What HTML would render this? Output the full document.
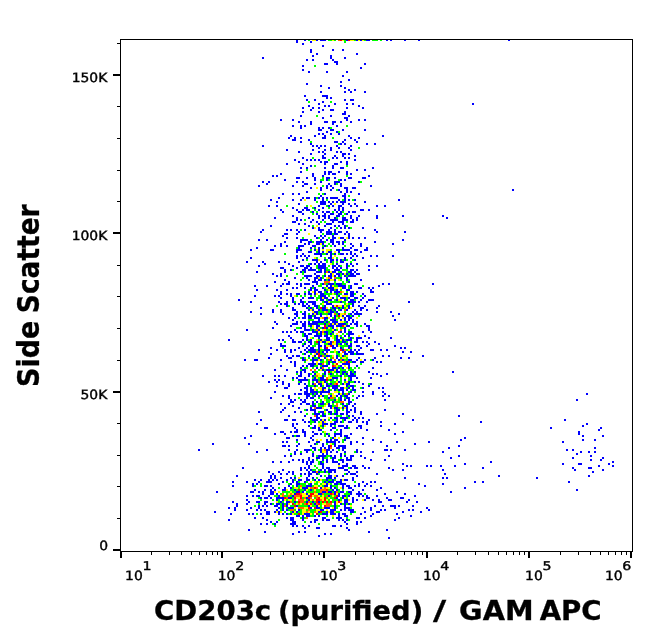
<!DOCTYPE html>
<html lang="en"><head><meta charset="utf-8"><title>CD203c (purified) / GAM APC vs Side Scatter</title>
<style>html,body{margin:0;padding:0;background:#fff}svg{display:block}</style></head>
<body>
<svg width="653" height="641" viewBox="0 0 653 641" shape-rendering="crispEdges">
<rect width="653" height="641" fill="#fff"/>
<path fill="#0000ff" d="M296 39h2v2h-2zM304 39h2v2h-2zM316 39h2v2h-2zM320 39h2v2h-2zM322 39h2v2h-2zM324 39h2v2h-2zM346 39h2v2h-2zM356 39h2v2h-2zM360 39h2v2h-2zM366 39h2v2h-2zM368 39h2v2h-2zM386 39h2v2h-2zM390 39h2v2h-2zM404 39h2v2h-2zM418 39h2v2h-2zM508 39h2v2h-2zM296 41h2v2h-2zM310 41h2v2h-2zM302 43h2v2h-2zM322 45h2v2h-2zM310 49h2v2h-2zM332 49h2v2h-2zM342 49h2v2h-2zM310 51h2v2h-2zM316 53h2v2h-2zM356 53h2v2h-2zM312 55h2v2h-2zM330 55h2v2h-2zM262 57h2v2h-2zM330 57h2v2h-2zM344 57h2v2h-2zM306 59h2v2h-2zM312 59h2v2h-2zM332 59h2v2h-2zM334 61h2v2h-2zM336 61h2v2h-2zM324 63h2v2h-2zM326 63h2v2h-2zM336 63h2v2h-2zM364 63h2v2h-2zM302 65h2v2h-2zM360 67h2v2h-2zM302 69h2v2h-2zM308 71h2v2h-2zM326 71h2v2h-2zM346 71h2v2h-2zM342 75h2v2h-2zM348 79h2v2h-2zM340 81h2v2h-2zM306 83h2v2h-2zM320 85h2v2h-2zM340 85h2v2h-2zM328 87h2v2h-2zM344 87h2v2h-2zM348 89h2v2h-2zM354 89h2v2h-2zM320 91h2v2h-2zM344 91h2v2h-2zM350 91h2v2h-2zM364 91h2v2h-2zM304 95h2v2h-2zM322 95h2v2h-2zM324 95h2v2h-2zM326 95h2v2h-2zM326 97h2v2h-2zM330 97h2v2h-2zM306 99h2v2h-2zM314 99h2v2h-2zM344 99h2v2h-2zM350 99h2v2h-2zM352 99h2v2h-2zM322 101h2v2h-2zM318 103h2v2h-2zM334 103h2v2h-2zM346 103h2v2h-2zM352 103h2v2h-2zM472 103h2v2h-2zM308 105h2v2h-2zM324 105h2v2h-2zM328 105h2v2h-2zM358 105h2v2h-2zM302 107h2v2h-2zM312 107h2v2h-2zM318 107h2v2h-2zM346 107h2v2h-2zM362 107h2v2h-2zM310 109h2v2h-2zM322 109h2v2h-2zM330 109h2v2h-2zM332 109h2v2h-2zM302 111h2v2h-2zM318 111h2v2h-2zM344 111h2v2h-2zM342 113h2v2h-2zM344 113h2v2h-2zM300 115h2v2h-2zM330 115h2v2h-2zM348 115h2v2h-2zM322 117h2v2h-2zM344 117h2v2h-2zM346 117h2v2h-2zM280 119h2v2h-2zM292 119h2v2h-2zM346 119h2v2h-2zM358 119h2v2h-2zM364 119h2v2h-2zM298 121h2v2h-2zM310 121h2v2h-2zM324 121h2v2h-2zM326 121h2v2h-2zM332 121h2v2h-2zM334 121h2v2h-2zM340 121h2v2h-2zM350 121h2v2h-2zM310 123h2v2h-2zM332 123h2v2h-2zM292 125h2v2h-2zM300 125h2v2h-2zM304 125h2v2h-2zM336 125h2v2h-2zM300 127h2v2h-2zM318 127h2v2h-2zM322 127h2v2h-2zM328 127h2v2h-2zM318 129h2v2h-2zM320 129h2v2h-2zM330 129h2v2h-2zM332 129h2v2h-2zM342 129h2v2h-2zM364 129h2v2h-2zM326 131h2v2h-2zM336 131h2v2h-2zM318 133h2v2h-2zM322 133h2v2h-2zM330 133h2v2h-2zM338 133h2v2h-2zM290 135h2v2h-2zM314 135h2v2h-2zM324 135h2v2h-2zM348 135h2v2h-2zM382 135h2v2h-2zM288 137h2v2h-2zM294 137h2v2h-2zM300 137h2v2h-2zM322 137h2v2h-2zM324 137h2v2h-2zM350 137h2v2h-2zM358 137h2v2h-2zM292 139h2v2h-2zM294 139h2v2h-2zM308 139h2v2h-2zM344 139h2v2h-2zM354 139h2v2h-2zM300 141h2v2h-2zM334 141h2v2h-2zM336 141h2v2h-2zM342 141h2v2h-2zM356 141h2v2h-2zM310 143h2v2h-2zM340 143h2v2h-2zM344 143h2v2h-2zM366 143h2v2h-2zM374 143h2v2h-2zM262 145h2v2h-2zM312 145h2v2h-2zM316 145h2v2h-2zM320 145h2v2h-2zM324 145h2v2h-2zM336 145h2v2h-2zM350 145h2v2h-2zM318 147h2v2h-2zM330 147h2v2h-2zM338 147h2v2h-2zM348 147h2v2h-2zM286 149h2v2h-2zM312 149h2v2h-2zM324 149h2v2h-2zM330 149h2v2h-2zM350 149h2v2h-2zM298 151h2v2h-2zM318 151h2v2h-2zM322 151h2v2h-2zM336 151h2v2h-2zM340 151h2v2h-2zM310 153h2v2h-2zM324 153h2v2h-2zM342 153h2v2h-2zM344 153h2v2h-2zM348 153h2v2h-2zM322 155h2v2h-2zM334 155h2v2h-2zM342 155h2v2h-2zM354 155h2v2h-2zM302 157h2v2h-2zM322 157h2v2h-2zM324 157h2v2h-2zM332 157h2v2h-2zM336 157h2v2h-2zM344 157h2v2h-2zM348 157h2v2h-2zM294 159h2v2h-2zM306 159h2v2h-2zM310 159h2v2h-2zM314 159h2v2h-2zM318 159h2v2h-2zM354 159h2v2h-2zM298 161h2v2h-2zM320 161h2v2h-2zM324 161h2v2h-2zM326 161h2v2h-2zM340 161h2v2h-2zM346 161h2v2h-2zM286 163h2v2h-2zM302 163h2v2h-2zM324 163h2v2h-2zM334 163h2v2h-2zM336 163h2v2h-2zM346 163h2v2h-2zM310 165h2v2h-2zM332 165h2v2h-2zM300 167h2v2h-2zM306 167h2v2h-2zM324 167h2v2h-2zM332 167h2v2h-2zM340 167h2v2h-2zM342 167h2v2h-2zM372 167h2v2h-2zM356 169h2v2h-2zM364 169h2v2h-2zM300 171h2v2h-2zM324 171h2v2h-2zM328 171h2v2h-2zM330 171h2v2h-2zM338 171h2v2h-2zM346 171h2v2h-2zM280 173h2v2h-2zM312 173h2v2h-2zM324 173h2v2h-2zM328 173h2v2h-2zM332 173h2v2h-2zM334 173h2v2h-2zM346 173h2v2h-2zM350 173h2v2h-2zM272 175h2v2h-2zM276 175h2v2h-2zM312 175h2v2h-2zM322 175h2v2h-2zM368 175h2v2h-2zM296 177h2v2h-2zM298 177h2v2h-2zM306 177h2v2h-2zM314 177h2v2h-2zM326 177h2v2h-2zM328 177h2v2h-2zM334 177h2v2h-2zM348 177h2v2h-2zM350 177h2v2h-2zM362 177h2v2h-2zM364 177h2v2h-2zM284 179h2v2h-2zM314 179h2v2h-2zM326 179h2v2h-2zM340 179h2v2h-2zM344 179h2v2h-2zM262 181h2v2h-2zM268 181h2v2h-2zM296 181h2v2h-2zM302 181h2v2h-2zM320 181h2v2h-2zM334 181h2v2h-2zM336 181h2v2h-2zM338 181h2v2h-2zM358 181h2v2h-2zM266 183h2v2h-2zM304 183h2v2h-2zM306 183h2v2h-2zM314 183h2v2h-2zM328 183h2v2h-2zM334 183h2v2h-2zM340 183h2v2h-2zM258 185h2v2h-2zM292 185h2v2h-2zM302 185h2v2h-2zM326 185h2v2h-2zM330 185h2v2h-2zM340 185h2v2h-2zM370 185h2v2h-2zM310 187h2v2h-2zM320 187h2v2h-2zM326 187h2v2h-2zM332 187h2v2h-2zM344 187h2v2h-2zM346 187h2v2h-2zM352 187h2v2h-2zM354 187h2v2h-2zM320 189h2v2h-2zM330 189h2v2h-2zM338 189h2v2h-2zM346 189h2v2h-2zM512 189h2v2h-2zM306 191h2v2h-2zM340 191h2v2h-2zM346 191h2v2h-2zM350 191h2v2h-2zM282 193h2v2h-2zM292 193h2v2h-2zM298 193h2v2h-2zM324 193h2v2h-2zM344 193h2v2h-2zM358 193h2v2h-2zM320 195h2v2h-2zM342 195h2v2h-2zM344 195h2v2h-2zM278 197h2v2h-2zM302 197h2v2h-2zM306 197h2v2h-2zM308 197h2v2h-2zM314 197h2v2h-2zM318 197h2v2h-2zM322 197h2v2h-2zM326 197h2v2h-2zM330 197h2v2h-2zM332 197h2v2h-2zM334 197h2v2h-2zM336 197h2v2h-2zM344 197h2v2h-2zM270 199h2v2h-2zM292 199h2v2h-2zM300 199h2v2h-2zM314 199h2v2h-2zM322 199h2v2h-2zM338 199h2v2h-2zM344 199h2v2h-2zM348 199h2v2h-2zM354 199h2v2h-2zM398 199h2v2h-2zM276 201h2v2h-2zM320 201h2v2h-2zM322 201h2v2h-2zM324 201h2v2h-2zM328 201h2v2h-2zM332 201h2v2h-2zM336 201h2v2h-2zM340 201h2v2h-2zM342 201h2v2h-2zM344 201h2v2h-2zM364 201h2v2h-2zM298 203h2v2h-2zM320 203h2v2h-2zM322 203h2v2h-2zM324 203h2v2h-2zM330 203h2v2h-2zM342 203h2v2h-2zM348 203h2v2h-2zM354 203h2v2h-2zM268 205h2v2h-2zM276 205h2v2h-2zM318 205h2v2h-2zM328 205h2v2h-2zM332 205h2v2h-2zM338 205h2v2h-2zM340 205h2v2h-2zM350 205h2v2h-2zM356 205h2v2h-2zM376 205h2v2h-2zM384 205h2v2h-2zM292 207h2v2h-2zM304 207h2v2h-2zM306 207h2v2h-2zM314 207h2v2h-2zM322 207h2v2h-2zM338 207h2v2h-2zM342 207h2v2h-2zM280 209h2v2h-2zM296 209h2v2h-2zM302 209h2v2h-2zM306 209h2v2h-2zM308 209h2v2h-2zM318 209h2v2h-2zM334 209h2v2h-2zM338 209h2v2h-2zM342 209h2v2h-2zM360 209h2v2h-2zM362 209h2v2h-2zM368 209h2v2h-2zM282 211h2v2h-2zM298 211h2v2h-2zM300 211h2v2h-2zM312 211h2v2h-2zM322 211h2v2h-2zM326 211h2v2h-2zM328 211h2v2h-2zM336 211h2v2h-2zM340 211h2v2h-2zM348 211h2v2h-2zM352 211h2v2h-2zM354 211h2v2h-2zM302 213h2v2h-2zM316 213h2v2h-2zM324 213h2v2h-2zM330 213h2v2h-2zM332 213h2v2h-2zM338 213h2v2h-2zM340 213h2v2h-2zM346 213h2v2h-2zM292 215h2v2h-2zM318 215h2v2h-2zM322 215h2v2h-2zM324 215h2v2h-2zM328 215h2v2h-2zM336 215h2v2h-2zM338 215h2v2h-2zM350 215h2v2h-2zM358 215h2v2h-2zM376 215h2v2h-2zM402 215h2v2h-2zM442 215h2v2h-2zM274 217h2v2h-2zM296 217h2v2h-2zM308 217h2v2h-2zM318 217h2v2h-2zM324 217h2v2h-2zM328 217h2v2h-2zM334 217h2v2h-2zM342 217h2v2h-2zM344 217h2v2h-2zM350 217h2v2h-2zM356 217h2v2h-2zM376 217h2v2h-2zM446 217h2v2h-2zM296 219h2v2h-2zM300 219h2v2h-2zM312 219h2v2h-2zM322 219h2v2h-2zM330 219h2v2h-2zM332 219h2v2h-2zM334 219h2v2h-2zM336 219h2v2h-2zM342 219h2v2h-2zM344 219h2v2h-2zM346 219h2v2h-2zM352 219h2v2h-2zM356 219h2v2h-2zM292 221h2v2h-2zM294 221h2v2h-2zM310 221h2v2h-2zM316 221h2v2h-2zM332 221h2v2h-2zM338 221h2v2h-2zM340 221h2v2h-2zM342 221h2v2h-2zM350 221h2v2h-2zM352 221h2v2h-2zM298 223h2v2h-2zM304 223h2v2h-2zM318 223h2v2h-2zM326 223h2v2h-2zM328 223h2v2h-2zM330 223h2v2h-2zM342 223h2v2h-2zM270 225h2v2h-2zM308 225h2v2h-2zM324 225h2v2h-2zM334 225h2v2h-2zM338 225h2v2h-2zM344 225h2v2h-2zM312 227h2v2h-2zM318 227h2v2h-2zM330 227h2v2h-2zM340 227h2v2h-2zM344 227h2v2h-2zM348 227h2v2h-2zM362 227h2v2h-2zM262 229h2v2h-2zM286 229h2v2h-2zM290 229h2v2h-2zM296 229h2v2h-2zM304 229h2v2h-2zM318 229h2v2h-2zM320 229h2v2h-2zM322 229h2v2h-2zM328 229h2v2h-2zM334 229h2v2h-2zM374 229h2v2h-2zM260 231h2v2h-2zM298 231h2v2h-2zM320 231h2v2h-2zM326 231h2v2h-2zM328 231h2v2h-2zM330 231h2v2h-2zM334 231h2v2h-2zM338 231h2v2h-2zM340 231h2v2h-2zM346 231h2v2h-2zM376 231h2v2h-2zM404 231h2v2h-2zM284 233h2v2h-2zM286 233h2v2h-2zM296 233h2v2h-2zM326 233h2v2h-2zM328 233h2v2h-2zM330 233h2v2h-2zM334 233h2v2h-2zM336 233h2v2h-2zM344 233h2v2h-2zM348 233h2v2h-2zM282 235h2v2h-2zM314 235h2v2h-2zM320 235h2v2h-2zM324 235h2v2h-2zM332 235h2v2h-2zM348 235h2v2h-2zM286 237h2v2h-2zM296 237h2v2h-2zM316 237h2v2h-2zM322 237h2v2h-2zM332 237h2v2h-2zM334 237h2v2h-2zM340 237h2v2h-2zM342 237h2v2h-2zM348 237h2v2h-2zM352 237h2v2h-2zM358 237h2v2h-2zM364 237h2v2h-2zM258 239h2v2h-2zM266 239h2v2h-2zM300 239h2v2h-2zM302 239h2v2h-2zM304 239h2v2h-2zM306 239h2v2h-2zM320 239h2v2h-2zM326 239h2v2h-2zM330 239h2v2h-2zM332 239h2v2h-2zM344 239h2v2h-2zM402 239h2v2h-2zM284 241h2v2h-2zM300 241h2v2h-2zM308 241h2v2h-2zM310 241h2v2h-2zM316 241h2v2h-2zM318 241h2v2h-2zM320 241h2v2h-2zM322 241h2v2h-2zM330 241h2v2h-2zM332 241h2v2h-2zM336 241h2v2h-2zM338 241h2v2h-2zM342 241h2v2h-2zM374 241h2v2h-2zM280 243h2v2h-2zM304 243h2v2h-2zM308 243h2v2h-2zM316 243h2v2h-2zM318 243h2v2h-2zM322 243h2v2h-2zM332 243h2v2h-2zM338 243h2v2h-2zM342 243h2v2h-2zM350 243h2v2h-2zM360 243h2v2h-2zM392 243h2v2h-2zM274 245h2v2h-2zM280 245h2v2h-2zM286 245h2v2h-2zM298 245h2v2h-2zM300 245h2v2h-2zM302 245h2v2h-2zM312 245h2v2h-2zM314 245h2v2h-2zM324 245h2v2h-2zM334 245h2v2h-2zM352 245h2v2h-2zM360 245h2v2h-2zM256 247h2v2h-2zM298 247h2v2h-2zM310 247h2v2h-2zM318 247h2v2h-2zM322 247h2v2h-2zM342 247h2v2h-2zM350 247h2v2h-2zM366 247h2v2h-2zM250 249h2v2h-2zM270 249h2v2h-2zM272 249h2v2h-2zM296 249h2v2h-2zM298 249h2v2h-2zM300 249h2v2h-2zM314 249h2v2h-2zM318 249h2v2h-2zM336 249h2v2h-2zM338 249h2v2h-2zM342 249h2v2h-2zM344 249h2v2h-2zM346 249h2v2h-2zM348 249h2v2h-2zM354 249h2v2h-2zM356 249h2v2h-2zM364 249h2v2h-2zM366 249h2v2h-2zM296 251h2v2h-2zM308 251h2v2h-2zM310 251h2v2h-2zM318 251h2v2h-2zM322 251h2v2h-2zM328 251h2v2h-2zM330 251h2v2h-2zM338 251h2v2h-2zM350 251h2v2h-2zM360 251h2v2h-2zM302 253h2v2h-2zM314 253h2v2h-2zM316 253h2v2h-2zM318 253h2v2h-2zM320 253h2v2h-2zM326 253h2v2h-2zM330 253h2v2h-2zM334 253h2v2h-2zM340 253h2v2h-2zM342 253h2v2h-2zM346 253h2v2h-2zM350 253h2v2h-2zM354 253h2v2h-2zM296 255h2v2h-2zM300 255h2v2h-2zM304 255h2v2h-2zM308 255h2v2h-2zM320 255h2v2h-2zM330 255h2v2h-2zM352 255h2v2h-2zM356 255h2v2h-2zM370 255h2v2h-2zM376 255h2v2h-2zM392 255h2v2h-2zM250 257h2v2h-2zM296 257h2v2h-2zM306 257h2v2h-2zM328 257h2v2h-2zM330 257h2v2h-2zM344 257h2v2h-2zM350 257h2v2h-2zM362 257h2v2h-2zM302 259h2v2h-2zM312 259h2v2h-2zM314 259h2v2h-2zM316 259h2v2h-2zM324 259h2v2h-2zM330 259h2v2h-2zM332 259h2v2h-2zM336 259h2v2h-2zM340 259h2v2h-2zM344 259h2v2h-2zM354 259h2v2h-2zM246 261h2v2h-2zM262 261h2v2h-2zM278 261h2v2h-2zM284 261h2v2h-2zM298 261h2v2h-2zM316 261h2v2h-2zM320 261h2v2h-2zM330 261h2v2h-2zM340 261h2v2h-2zM342 261h2v2h-2zM264 263h2v2h-2zM288 263h2v2h-2zM310 263h2v2h-2zM314 263h2v2h-2zM318 263h2v2h-2zM322 263h2v2h-2zM324 263h2v2h-2zM336 263h2v2h-2zM346 263h2v2h-2zM350 263h2v2h-2zM356 263h2v2h-2zM258 265h2v2h-2zM292 265h2v2h-2zM300 265h2v2h-2zM302 265h2v2h-2zM306 265h2v2h-2zM308 265h2v2h-2zM318 265h2v2h-2zM320 265h2v2h-2zM322 265h2v2h-2zM324 265h2v2h-2zM332 265h2v2h-2zM334 265h2v2h-2zM338 265h2v2h-2zM346 265h2v2h-2zM352 265h2v2h-2zM368 265h2v2h-2zM376 265h2v2h-2zM280 267h2v2h-2zM282 267h2v2h-2zM296 267h2v2h-2zM304 267h2v2h-2zM306 267h2v2h-2zM310 267h2v2h-2zM318 267h2v2h-2zM320 267h2v2h-2zM322 267h2v2h-2zM324 267h2v2h-2zM332 267h2v2h-2zM336 267h2v2h-2zM340 267h2v2h-2zM346 267h2v2h-2zM284 269h2v2h-2zM290 269h2v2h-2zM302 269h2v2h-2zM304 269h2v2h-2zM308 269h2v2h-2zM310 269h2v2h-2zM312 269h2v2h-2zM314 269h2v2h-2zM320 269h2v2h-2zM324 269h2v2h-2zM334 269h2v2h-2zM336 269h2v2h-2zM338 269h2v2h-2zM350 269h2v2h-2zM352 269h2v2h-2zM356 269h2v2h-2zM368 269h2v2h-2zM256 271h2v2h-2zM284 271h2v2h-2zM300 271h2v2h-2zM304 271h2v2h-2zM316 271h2v2h-2zM318 271h2v2h-2zM320 271h2v2h-2zM324 271h2v2h-2zM328 271h2v2h-2zM332 271h2v2h-2zM334 271h2v2h-2zM340 271h2v2h-2zM348 271h2v2h-2zM350 271h2v2h-2zM354 271h2v2h-2zM272 273h2v2h-2zM280 273h2v2h-2zM314 273h2v2h-2zM330 273h2v2h-2zM336 273h2v2h-2zM338 273h2v2h-2zM342 273h2v2h-2zM346 273h2v2h-2zM350 273h2v2h-2zM352 273h2v2h-2zM356 273h2v2h-2zM358 273h2v2h-2zM276 275h2v2h-2zM280 275h2v2h-2zM304 275h2v2h-2zM306 275h2v2h-2zM308 275h2v2h-2zM310 275h2v2h-2zM316 275h2v2h-2zM318 275h2v2h-2zM324 275h2v2h-2zM328 275h2v2h-2zM330 275h2v2h-2zM334 275h2v2h-2zM338 275h2v2h-2zM344 275h2v2h-2zM348 275h2v2h-2zM350 275h2v2h-2zM352 275h2v2h-2zM354 275h2v2h-2zM294 277h2v2h-2zM306 277h2v2h-2zM314 277h2v2h-2zM316 277h2v2h-2zM320 277h2v2h-2zM330 277h2v2h-2zM340 277h2v2h-2zM346 277h2v2h-2zM284 279h2v2h-2zM308 279h2v2h-2zM314 279h2v2h-2zM318 279h2v2h-2zM320 279h2v2h-2zM324 279h2v2h-2zM328 279h2v2h-2zM334 279h2v2h-2zM346 279h2v2h-2zM360 279h2v2h-2zM274 281h2v2h-2zM288 281h2v2h-2zM312 281h2v2h-2zM314 281h2v2h-2zM316 281h2v2h-2zM348 281h2v2h-2zM282 283h2v2h-2zM286 283h2v2h-2zM288 283h2v2h-2zM296 283h2v2h-2zM300 283h2v2h-2zM304 283h2v2h-2zM306 283h2v2h-2zM308 283h2v2h-2zM316 283h2v2h-2zM322 283h2v2h-2zM328 283h2v2h-2zM330 283h2v2h-2zM332 283h2v2h-2zM336 283h2v2h-2zM338 283h2v2h-2zM340 283h2v2h-2zM354 283h2v2h-2zM356 283h2v2h-2zM382 283h2v2h-2zM388 283h2v2h-2zM432 283h2v2h-2zM254 285h2v2h-2zM266 285h2v2h-2zM280 285h2v2h-2zM300 285h2v2h-2zM312 285h2v2h-2zM326 285h2v2h-2zM330 285h2v2h-2zM338 285h2v2h-2zM340 285h2v2h-2zM342 285h2v2h-2zM344 285h2v2h-2zM350 285h2v2h-2zM378 285h2v2h-2zM292 287h2v2h-2zM296 287h2v2h-2zM304 287h2v2h-2zM310 287h2v2h-2zM314 287h2v2h-2zM322 287h2v2h-2zM328 287h2v2h-2zM330 287h2v2h-2zM332 287h2v2h-2zM342 287h2v2h-2zM344 287h2v2h-2zM350 287h2v2h-2zM358 287h2v2h-2zM360 287h2v2h-2zM368 287h2v2h-2zM372 287h2v2h-2zM256 289h2v2h-2zM276 289h2v2h-2zM286 289h2v2h-2zM310 289h2v2h-2zM314 289h2v2h-2zM316 289h2v2h-2zM324 289h2v2h-2zM330 289h2v2h-2zM332 289h2v2h-2zM336 289h2v2h-2zM346 289h2v2h-2zM348 289h2v2h-2zM370 289h2v2h-2zM280 291h2v2h-2zM308 291h2v2h-2zM314 291h2v2h-2zM318 291h2v2h-2zM320 291h2v2h-2zM326 291h2v2h-2zM330 291h2v2h-2zM334 291h2v2h-2zM336 291h2v2h-2zM338 291h2v2h-2zM350 291h2v2h-2zM352 291h2v2h-2zM356 291h2v2h-2zM370 291h2v2h-2zM372 291h2v2h-2zM280 293h2v2h-2zM286 293h2v2h-2zM290 293h2v2h-2zM296 293h2v2h-2zM298 293h2v2h-2zM304 293h2v2h-2zM308 293h2v2h-2zM310 293h2v2h-2zM314 293h2v2h-2zM320 293h2v2h-2zM322 293h2v2h-2zM336 293h2v2h-2zM344 293h2v2h-2zM346 293h2v2h-2zM350 293h2v2h-2zM352 293h2v2h-2zM362 293h2v2h-2zM254 295h2v2h-2zM274 295h2v2h-2zM278 295h2v2h-2zM290 295h2v2h-2zM320 295h2v2h-2zM322 295h2v2h-2zM324 295h2v2h-2zM338 295h2v2h-2zM350 295h2v2h-2zM352 295h2v2h-2zM364 295h2v2h-2zM280 297h2v2h-2zM292 297h2v2h-2zM302 297h2v2h-2zM308 297h2v2h-2zM310 297h2v2h-2zM312 297h2v2h-2zM320 297h2v2h-2zM324 297h2v2h-2zM326 297h2v2h-2zM332 297h2v2h-2zM340 297h2v2h-2zM342 297h2v2h-2zM344 297h2v2h-2zM348 297h2v2h-2zM354 297h2v2h-2zM356 297h2v2h-2zM362 297h2v2h-2zM238 299h2v2h-2zM292 299h2v2h-2zM300 299h2v2h-2zM320 299h2v2h-2zM322 299h2v2h-2zM328 299h2v2h-2zM330 299h2v2h-2zM336 299h2v2h-2zM344 299h2v2h-2zM350 299h2v2h-2zM352 299h2v2h-2zM360 299h2v2h-2zM368 299h2v2h-2zM370 299h2v2h-2zM372 299h2v2h-2zM250 301h2v2h-2zM278 301h2v2h-2zM286 301h2v2h-2zM292 301h2v2h-2zM300 301h2v2h-2zM302 301h2v2h-2zM308 301h2v2h-2zM310 301h2v2h-2zM312 301h2v2h-2zM314 301h2v2h-2zM324 301h2v2h-2zM326 301h2v2h-2zM340 301h2v2h-2zM348 301h2v2h-2zM350 301h2v2h-2zM352 301h2v2h-2zM354 301h2v2h-2zM358 301h2v2h-2zM366 301h2v2h-2zM408 301h2v2h-2zM280 303h2v2h-2zM284 303h2v2h-2zM286 303h2v2h-2zM294 303h2v2h-2zM298 303h2v2h-2zM302 303h2v2h-2zM306 303h2v2h-2zM312 303h2v2h-2zM314 303h2v2h-2zM326 303h2v2h-2zM328 303h2v2h-2zM330 303h2v2h-2zM352 303h2v2h-2zM286 305h2v2h-2zM302 305h2v2h-2zM304 305h2v2h-2zM308 305h2v2h-2zM314 305h2v2h-2zM316 305h2v2h-2zM324 305h2v2h-2zM332 305h2v2h-2zM342 305h2v2h-2zM348 305h2v2h-2zM352 305h2v2h-2zM358 305h2v2h-2zM364 305h2v2h-2zM378 305h2v2h-2zM260 307h2v2h-2zM292 307h2v2h-2zM306 307h2v2h-2zM310 307h2v2h-2zM316 307h2v2h-2zM322 307h2v2h-2zM324 307h2v2h-2zM332 307h2v2h-2zM334 307h2v2h-2zM338 307h2v2h-2zM342 307h2v2h-2zM348 307h2v2h-2zM360 307h2v2h-2zM362 307h2v2h-2zM376 307h2v2h-2zM272 309h2v2h-2zM280 309h2v2h-2zM292 309h2v2h-2zM294 309h2v2h-2zM308 309h2v2h-2zM312 309h2v2h-2zM318 309h2v2h-2zM322 309h2v2h-2zM324 309h2v2h-2zM326 309h2v2h-2zM330 309h2v2h-2zM334 309h2v2h-2zM340 309h2v2h-2zM346 309h2v2h-2zM354 309h2v2h-2zM360 309h2v2h-2zM366 309h2v2h-2zM250 311h2v2h-2zM272 311h2v2h-2zM280 311h2v2h-2zM296 311h2v2h-2zM304 311h2v2h-2zM314 311h2v2h-2zM316 311h2v2h-2zM330 311h2v2h-2zM332 311h2v2h-2zM336 311h2v2h-2zM352 311h2v2h-2zM356 311h2v2h-2zM376 311h2v2h-2zM390 311h2v2h-2zM260 313h2v2h-2zM282 313h2v2h-2zM294 313h2v2h-2zM296 313h2v2h-2zM302 313h2v2h-2zM304 313h2v2h-2zM312 313h2v2h-2zM316 313h2v2h-2zM320 313h2v2h-2zM328 313h2v2h-2zM330 313h2v2h-2zM338 313h2v2h-2zM350 313h2v2h-2zM354 313h2v2h-2zM356 313h2v2h-2zM358 313h2v2h-2zM360 313h2v2h-2zM398 313h2v2h-2zM296 315h2v2h-2zM304 315h2v2h-2zM308 315h2v2h-2zM310 315h2v2h-2zM314 315h2v2h-2zM320 315h2v2h-2zM330 315h2v2h-2zM334 315h2v2h-2zM342 315h2v2h-2zM346 315h2v2h-2zM348 315h2v2h-2zM352 315h2v2h-2zM392 315h2v2h-2zM288 317h2v2h-2zM294 317h2v2h-2zM302 317h2v2h-2zM304 317h2v2h-2zM308 317h2v2h-2zM310 317h2v2h-2zM314 317h2v2h-2zM316 317h2v2h-2zM318 317h2v2h-2zM324 317h2v2h-2zM326 317h2v2h-2zM334 317h2v2h-2zM344 317h2v2h-2zM348 317h2v2h-2zM350 317h2v2h-2zM292 319h2v2h-2zM318 319h2v2h-2zM324 319h2v2h-2zM330 319h2v2h-2zM332 319h2v2h-2zM334 319h2v2h-2zM340 319h2v2h-2zM344 319h2v2h-2zM348 319h2v2h-2zM352 319h2v2h-2zM394 319h2v2h-2zM274 321h2v2h-2zM296 321h2v2h-2zM300 321h2v2h-2zM304 321h2v2h-2zM308 321h2v2h-2zM312 321h2v2h-2zM314 321h2v2h-2zM316 321h2v2h-2zM318 321h2v2h-2zM320 321h2v2h-2zM322 321h2v2h-2zM326 321h2v2h-2zM332 321h2v2h-2zM334 321h2v2h-2zM336 321h2v2h-2zM346 321h2v2h-2zM352 321h2v2h-2zM356 321h2v2h-2zM276 323h2v2h-2zM292 323h2v2h-2zM294 323h2v2h-2zM296 323h2v2h-2zM302 323h2v2h-2zM304 323h2v2h-2zM308 323h2v2h-2zM310 323h2v2h-2zM312 323h2v2h-2zM314 323h2v2h-2zM316 323h2v2h-2zM324 323h2v2h-2zM330 323h2v2h-2zM334 323h2v2h-2zM338 323h2v2h-2zM340 323h2v2h-2zM342 323h2v2h-2zM344 323h2v2h-2zM350 323h2v2h-2zM354 323h2v2h-2zM356 323h2v2h-2zM364 323h2v2h-2zM290 325h2v2h-2zM302 325h2v2h-2zM304 325h2v2h-2zM310 325h2v2h-2zM316 325h2v2h-2zM318 325h2v2h-2zM328 325h2v2h-2zM330 325h2v2h-2zM332 325h2v2h-2zM336 325h2v2h-2zM338 325h2v2h-2zM340 325h2v2h-2zM346 325h2v2h-2zM348 325h2v2h-2zM356 325h2v2h-2zM366 325h2v2h-2zM368 325h2v2h-2zM272 327h2v2h-2zM300 327h2v2h-2zM304 327h2v2h-2zM316 327h2v2h-2zM322 327h2v2h-2zM326 327h2v2h-2zM332 327h2v2h-2zM344 327h2v2h-2zM368 327h2v2h-2zM246 329h2v2h-2zM294 329h2v2h-2zM304 329h2v2h-2zM306 329h2v2h-2zM308 329h2v2h-2zM312 329h2v2h-2zM318 329h2v2h-2zM334 329h2v2h-2zM344 329h2v2h-2zM368 329h2v2h-2zM282 331h2v2h-2zM286 331h2v2h-2zM290 331h2v2h-2zM296 331h2v2h-2zM300 331h2v2h-2zM302 331h2v2h-2zM312 331h2v2h-2zM314 331h2v2h-2zM316 331h2v2h-2zM320 331h2v2h-2zM324 331h2v2h-2zM326 331h2v2h-2zM332 331h2v2h-2zM340 331h2v2h-2zM344 331h2v2h-2zM348 331h2v2h-2zM350 331h2v2h-2zM362 331h2v2h-2zM370 331h2v2h-2zM304 333h2v2h-2zM308 333h2v2h-2zM310 333h2v2h-2zM316 333h2v2h-2zM320 333h2v2h-2zM326 333h2v2h-2zM330 333h2v2h-2zM348 333h2v2h-2zM350 333h2v2h-2zM352 333h2v2h-2zM288 335h2v2h-2zM304 335h2v2h-2zM306 335h2v2h-2zM314 335h2v2h-2zM316 335h2v2h-2zM318 335h2v2h-2zM320 335h2v2h-2zM324 335h2v2h-2zM326 335h2v2h-2zM336 335h2v2h-2zM344 335h2v2h-2zM348 335h2v2h-2zM364 335h2v2h-2zM290 337h2v2h-2zM306 337h2v2h-2zM318 337h2v2h-2zM326 337h2v2h-2zM328 337h2v2h-2zM336 337h2v2h-2zM340 337h2v2h-2zM350 337h2v2h-2zM356 337h2v2h-2zM358 337h2v2h-2zM360 337h2v2h-2zM368 337h2v2h-2zM390 337h2v2h-2zM228 339h2v2h-2zM278 339h2v2h-2zM282 339h2v2h-2zM292 339h2v2h-2zM302 339h2v2h-2zM306 339h2v2h-2zM310 339h2v2h-2zM320 339h2v2h-2zM326 339h2v2h-2zM328 339h2v2h-2zM336 339h2v2h-2zM338 339h2v2h-2zM342 339h2v2h-2zM346 339h2v2h-2zM348 339h2v2h-2zM350 339h2v2h-2zM356 339h2v2h-2zM292 341h2v2h-2zM294 341h2v2h-2zM298 341h2v2h-2zM300 341h2v2h-2zM308 341h2v2h-2zM310 341h2v2h-2zM318 341h2v2h-2zM322 341h2v2h-2zM324 341h2v2h-2zM330 341h2v2h-2zM336 341h2v2h-2zM338 341h2v2h-2zM342 341h2v2h-2zM344 341h2v2h-2zM354 341h2v2h-2zM356 341h2v2h-2zM362 341h2v2h-2zM366 341h2v2h-2zM374 341h2v2h-2zM280 343h2v2h-2zM304 343h2v2h-2zM310 343h2v2h-2zM318 343h2v2h-2zM328 343h2v2h-2zM330 343h2v2h-2zM336 343h2v2h-2zM340 343h2v2h-2zM346 343h2v2h-2zM350 343h2v2h-2zM368 343h2v2h-2zM378 343h2v2h-2zM280 345h2v2h-2zM282 345h2v2h-2zM284 345h2v2h-2zM302 345h2v2h-2zM308 345h2v2h-2zM318 345h2v2h-2zM320 345h2v2h-2zM324 345h2v2h-2zM332 345h2v2h-2zM336 345h2v2h-2zM348 345h2v2h-2zM350 345h2v2h-2zM356 345h2v2h-2zM358 345h2v2h-2zM366 345h2v2h-2zM394 345h2v2h-2zM270 347h2v2h-2zM298 347h2v2h-2zM306 347h2v2h-2zM310 347h2v2h-2zM312 347h2v2h-2zM318 347h2v2h-2zM324 347h2v2h-2zM332 347h2v2h-2zM334 347h2v2h-2zM340 347h2v2h-2zM348 347h2v2h-2zM360 347h2v2h-2zM400 347h2v2h-2zM404 347h2v2h-2zM258 349h2v2h-2zM276 349h2v2h-2zM284 349h2v2h-2zM290 349h2v2h-2zM294 349h2v2h-2zM304 349h2v2h-2zM308 349h2v2h-2zM310 349h2v2h-2zM312 349h2v2h-2zM314 349h2v2h-2zM318 349h2v2h-2zM324 349h2v2h-2zM326 349h2v2h-2zM328 349h2v2h-2zM342 349h2v2h-2zM350 349h2v2h-2zM354 349h2v2h-2zM358 349h2v2h-2zM370 349h2v2h-2zM372 349h2v2h-2zM380 349h2v2h-2zM386 349h2v2h-2zM284 351h2v2h-2zM290 351h2v2h-2zM300 351h2v2h-2zM306 351h2v2h-2zM310 351h2v2h-2zM312 351h2v2h-2zM314 351h2v2h-2zM318 351h2v2h-2zM322 351h2v2h-2zM326 351h2v2h-2zM338 351h2v2h-2zM344 351h2v2h-2zM348 351h2v2h-2zM350 351h2v2h-2zM352 351h2v2h-2zM356 351h2v2h-2zM402 351h2v2h-2zM410 351h2v2h-2zM270 353h2v2h-2zM304 353h2v2h-2zM316 353h2v2h-2zM324 353h2v2h-2zM344 353h2v2h-2zM346 353h2v2h-2zM350 353h2v2h-2zM352 353h2v2h-2zM356 353h2v2h-2zM358 353h2v2h-2zM360 353h2v2h-2zM362 353h2v2h-2zM286 355h2v2h-2zM292 355h2v2h-2zM296 355h2v2h-2zM298 355h2v2h-2zM308 355h2v2h-2zM314 355h2v2h-2zM320 355h2v2h-2zM326 355h2v2h-2zM328 355h2v2h-2zM336 355h2v2h-2zM342 355h2v2h-2zM382 355h2v2h-2zM388 355h2v2h-2zM422 355h2v2h-2zM268 357h2v2h-2zM288 357h2v2h-2zM290 357h2v2h-2zM302 357h2v2h-2zM312 357h2v2h-2zM318 357h2v2h-2zM324 357h2v2h-2zM336 357h2v2h-2zM358 357h2v2h-2zM374 357h2v2h-2zM400 357h2v2h-2zM408 357h2v2h-2zM244 359h2v2h-2zM254 359h2v2h-2zM256 359h2v2h-2zM280 359h2v2h-2zM302 359h2v2h-2zM304 359h2v2h-2zM312 359h2v2h-2zM314 359h2v2h-2zM316 359h2v2h-2zM320 359h2v2h-2zM330 359h2v2h-2zM338 359h2v2h-2zM342 359h2v2h-2zM348 359h2v2h-2zM350 359h2v2h-2zM356 359h2v2h-2zM364 359h2v2h-2zM372 359h2v2h-2zM290 361h2v2h-2zM294 361h2v2h-2zM312 361h2v2h-2zM328 361h2v2h-2zM332 361h2v2h-2zM334 361h2v2h-2zM346 361h2v2h-2zM352 361h2v2h-2zM354 361h2v2h-2zM360 361h2v2h-2zM362 361h2v2h-2zM376 361h2v2h-2zM380 361h2v2h-2zM294 363h2v2h-2zM308 363h2v2h-2zM310 363h2v2h-2zM312 363h2v2h-2zM314 363h2v2h-2zM318 363h2v2h-2zM320 363h2v2h-2zM328 363h2v2h-2zM342 363h2v2h-2zM344 363h2v2h-2zM346 363h2v2h-2zM348 363h2v2h-2zM280 365h2v2h-2zM294 365h2v2h-2zM302 365h2v2h-2zM306 365h2v2h-2zM310 365h2v2h-2zM312 365h2v2h-2zM322 365h2v2h-2zM324 365h2v2h-2zM326 365h2v2h-2zM340 365h2v2h-2zM348 365h2v2h-2zM356 365h2v2h-2zM300 367h2v2h-2zM316 367h2v2h-2zM320 367h2v2h-2zM332 367h2v2h-2zM334 367h2v2h-2zM338 367h2v2h-2zM342 367h2v2h-2zM348 367h2v2h-2zM372 367h2v2h-2zM274 369h2v2h-2zM286 369h2v2h-2zM302 369h2v2h-2zM304 369h2v2h-2zM322 369h2v2h-2zM326 369h2v2h-2zM328 369h2v2h-2zM330 369h2v2h-2zM332 369h2v2h-2zM336 369h2v2h-2zM296 371h2v2h-2zM300 371h2v2h-2zM304 371h2v2h-2zM312 371h2v2h-2zM324 371h2v2h-2zM336 371h2v2h-2zM338 371h2v2h-2zM342 371h2v2h-2zM344 371h2v2h-2zM350 371h2v2h-2zM354 371h2v2h-2zM368 371h2v2h-2zM452 371h2v2h-2zM300 373h2v2h-2zM308 373h2v2h-2zM314 373h2v2h-2zM324 373h2v2h-2zM330 373h2v2h-2zM342 373h2v2h-2zM346 373h2v2h-2zM350 373h2v2h-2zM352 373h2v2h-2zM372 373h2v2h-2zM376 373h2v2h-2zM386 373h2v2h-2zM262 375h2v2h-2zM274 375h2v2h-2zM278 375h2v2h-2zM284 375h2v2h-2zM298 375h2v2h-2zM300 375h2v2h-2zM308 375h2v2h-2zM312 375h2v2h-2zM322 375h2v2h-2zM340 375h2v2h-2zM348 375h2v2h-2zM350 375h2v2h-2zM352 375h2v2h-2zM354 375h2v2h-2zM380 375h2v2h-2zM292 377h2v2h-2zM296 377h2v2h-2zM304 377h2v2h-2zM314 377h2v2h-2zM320 377h2v2h-2zM322 377h2v2h-2zM332 377h2v2h-2zM334 377h2v2h-2zM336 377h2v2h-2zM350 377h2v2h-2zM356 377h2v2h-2zM370 377h2v2h-2zM274 379h2v2h-2zM278 379h2v2h-2zM298 379h2v2h-2zM300 379h2v2h-2zM302 379h2v2h-2zM304 379h2v2h-2zM306 379h2v2h-2zM312 379h2v2h-2zM314 379h2v2h-2zM316 379h2v2h-2zM320 379h2v2h-2zM322 379h2v2h-2zM324 379h2v2h-2zM330 379h2v2h-2zM344 379h2v2h-2zM350 379h2v2h-2zM268 381h2v2h-2zM276 381h2v2h-2zM282 381h2v2h-2zM300 381h2v2h-2zM316 381h2v2h-2zM324 381h2v2h-2zM338 381h2v2h-2zM348 381h2v2h-2zM354 381h2v2h-2zM358 381h2v2h-2zM282 383h2v2h-2zM288 383h2v2h-2zM298 383h2v2h-2zM304 383h2v2h-2zM312 383h2v2h-2zM318 383h2v2h-2zM320 383h2v2h-2zM326 383h2v2h-2zM330 383h2v2h-2zM342 383h2v2h-2zM346 383h2v2h-2zM348 383h2v2h-2zM362 383h2v2h-2zM370 383h2v2h-2zM276 385h2v2h-2zM288 385h2v2h-2zM306 385h2v2h-2zM314 385h2v2h-2zM320 385h2v2h-2zM326 385h2v2h-2zM328 385h2v2h-2zM332 385h2v2h-2zM334 385h2v2h-2zM336 385h2v2h-2zM346 385h2v2h-2zM350 385h2v2h-2zM352 385h2v2h-2zM368 385h2v2h-2zM284 387h2v2h-2zM286 387h2v2h-2zM304 387h2v2h-2zM306 387h2v2h-2zM310 387h2v2h-2zM322 387h2v2h-2zM324 387h2v2h-2zM332 387h2v2h-2zM334 387h2v2h-2zM336 387h2v2h-2zM340 387h2v2h-2zM342 387h2v2h-2zM348 387h2v2h-2zM352 387h2v2h-2zM362 387h2v2h-2zM378 387h2v2h-2zM382 387h2v2h-2zM300 389h2v2h-2zM306 389h2v2h-2zM310 389h2v2h-2zM312 389h2v2h-2zM322 389h2v2h-2zM328 389h2v2h-2zM334 389h2v2h-2zM338 389h2v2h-2zM340 389h2v2h-2zM342 389h2v2h-2zM346 389h2v2h-2zM352 389h2v2h-2zM354 389h2v2h-2zM274 391h2v2h-2zM304 391h2v2h-2zM306 391h2v2h-2zM310 391h2v2h-2zM312 391h2v2h-2zM314 391h2v2h-2zM316 391h2v2h-2zM320 391h2v2h-2zM322 391h2v2h-2zM324 391h2v2h-2zM326 391h2v2h-2zM328 391h2v2h-2zM342 391h2v2h-2zM350 391h2v2h-2zM362 391h2v2h-2zM372 391h2v2h-2zM382 391h2v2h-2zM294 393h2v2h-2zM298 393h2v2h-2zM300 393h2v2h-2zM304 393h2v2h-2zM306 393h2v2h-2zM308 393h2v2h-2zM312 393h2v2h-2zM316 393h2v2h-2zM320 393h2v2h-2zM338 393h2v2h-2zM342 393h2v2h-2zM348 393h2v2h-2zM372 393h2v2h-2zM384 393h2v2h-2zM586 393h2v2h-2zM282 395h2v2h-2zM288 395h2v2h-2zM306 395h2v2h-2zM308 395h2v2h-2zM314 395h2v2h-2zM318 395h2v2h-2zM322 395h2v2h-2zM330 395h2v2h-2zM336 395h2v2h-2zM340 395h2v2h-2zM344 395h2v2h-2zM346 395h2v2h-2zM358 395h2v2h-2zM362 395h2v2h-2zM382 395h2v2h-2zM388 395h2v2h-2zM270 397h2v2h-2zM288 397h2v2h-2zM306 397h2v2h-2zM310 397h2v2h-2zM312 397h2v2h-2zM328 397h2v2h-2zM340 397h2v2h-2zM346 397h2v2h-2zM348 397h2v2h-2zM356 397h2v2h-2zM290 399h2v2h-2zM294 399h2v2h-2zM300 399h2v2h-2zM304 399h2v2h-2zM334 399h2v2h-2zM340 399h2v2h-2zM344 399h2v2h-2zM348 399h2v2h-2zM384 399h2v2h-2zM576 399h2v2h-2zM290 401h2v2h-2zM292 401h2v2h-2zM302 401h2v2h-2zM304 401h2v2h-2zM312 401h2v2h-2zM316 401h2v2h-2zM322 401h2v2h-2zM332 401h2v2h-2zM348 401h2v2h-2zM350 401h2v2h-2zM280 403h2v2h-2zM288 403h2v2h-2zM300 403h2v2h-2zM306 403h2v2h-2zM308 403h2v2h-2zM312 403h2v2h-2zM320 403h2v2h-2zM322 403h2v2h-2zM328 403h2v2h-2zM342 403h2v2h-2zM348 403h2v2h-2zM354 403h2v2h-2zM292 405h2v2h-2zM312 405h2v2h-2zM314 405h2v2h-2zM328 405h2v2h-2zM330 405h2v2h-2zM344 405h2v2h-2zM346 405h2v2h-2zM352 405h2v2h-2zM284 407h2v2h-2zM298 407h2v2h-2zM310 407h2v2h-2zM316 407h2v2h-2zM318 407h2v2h-2zM320 407h2v2h-2zM330 407h2v2h-2zM334 407h2v2h-2zM336 407h2v2h-2zM342 407h2v2h-2zM346 407h2v2h-2zM354 407h2v2h-2zM282 409h2v2h-2zM306 409h2v2h-2zM310 409h2v2h-2zM312 409h2v2h-2zM314 409h2v2h-2zM326 409h2v2h-2zM336 409h2v2h-2zM338 409h2v2h-2zM346 409h2v2h-2zM350 409h2v2h-2zM354 409h2v2h-2zM384 409h2v2h-2zM258 411h2v2h-2zM280 411h2v2h-2zM294 411h2v2h-2zM300 411h2v2h-2zM314 411h2v2h-2zM320 411h2v2h-2zM322 411h2v2h-2zM328 411h2v2h-2zM330 411h2v2h-2zM336 411h2v2h-2zM346 411h2v2h-2zM348 411h2v2h-2zM354 411h2v2h-2zM360 411h2v2h-2zM314 413h2v2h-2zM316 413h2v2h-2zM318 413h2v2h-2zM322 413h2v2h-2zM330 413h2v2h-2zM334 413h2v2h-2zM336 413h2v2h-2zM340 413h2v2h-2zM342 413h2v2h-2zM346 413h2v2h-2zM360 413h2v2h-2zM376 413h2v2h-2zM402 413h2v2h-2zM288 415h2v2h-2zM304 415h2v2h-2zM316 415h2v2h-2zM322 415h2v2h-2zM324 415h2v2h-2zM348 415h2v2h-2zM352 415h2v2h-2zM458 415h2v2h-2zM310 417h2v2h-2zM316 417h2v2h-2zM318 417h2v2h-2zM330 417h2v2h-2zM334 417h2v2h-2zM336 417h2v2h-2zM340 417h2v2h-2zM342 417h2v2h-2zM344 417h2v2h-2zM346 417h2v2h-2zM354 417h2v2h-2zM358 417h2v2h-2zM362 417h2v2h-2zM260 419h2v2h-2zM284 419h2v2h-2zM286 419h2v2h-2zM292 419h2v2h-2zM294 419h2v2h-2zM302 419h2v2h-2zM312 419h2v2h-2zM314 419h2v2h-2zM316 419h2v2h-2zM320 419h2v2h-2zM324 419h2v2h-2zM336 419h2v2h-2zM344 419h2v2h-2zM352 419h2v2h-2zM356 419h2v2h-2zM368 419h2v2h-2zM412 419h2v2h-2zM564 419h2v2h-2zM304 421h2v2h-2zM308 421h2v2h-2zM314 421h2v2h-2zM322 421h2v2h-2zM334 421h2v2h-2zM336 421h2v2h-2zM340 421h2v2h-2zM348 421h2v2h-2zM350 421h2v2h-2zM356 421h2v2h-2zM362 421h2v2h-2zM366 421h2v2h-2zM380 421h2v2h-2zM480 421h2v2h-2zM256 423h2v2h-2zM292 423h2v2h-2zM296 423h2v2h-2zM322 423h2v2h-2zM324 423h2v2h-2zM326 423h2v2h-2zM330 423h2v2h-2zM332 423h2v2h-2zM334 423h2v2h-2zM366 423h2v2h-2zM394 423h2v2h-2zM586 423h2v2h-2zM292 425h2v2h-2zM308 425h2v2h-2zM314 425h2v2h-2zM322 425h2v2h-2zM330 425h2v2h-2zM338 425h2v2h-2zM340 425h2v2h-2zM342 425h2v2h-2zM346 425h2v2h-2zM358 425h2v2h-2zM360 425h2v2h-2zM380 425h2v2h-2zM582 425h2v2h-2zM264 427h2v2h-2zM266 427h2v2h-2zM294 427h2v2h-2zM312 427h2v2h-2zM314 427h2v2h-2zM318 427h2v2h-2zM332 427h2v2h-2zM334 427h2v2h-2zM344 427h2v2h-2zM346 427h2v2h-2zM356 427h2v2h-2zM360 427h2v2h-2zM550 427h2v2h-2zM600 427h2v2h-2zM296 429h2v2h-2zM302 429h2v2h-2zM318 429h2v2h-2zM320 429h2v2h-2zM330 429h2v2h-2zM340 429h2v2h-2zM366 429h2v2h-2zM388 429h2v2h-2zM598 429h2v2h-2zM280 431h2v2h-2zM282 431h2v2h-2zM290 431h2v2h-2zM294 431h2v2h-2zM296 431h2v2h-2zM302 431h2v2h-2zM304 431h2v2h-2zM312 431h2v2h-2zM340 431h2v2h-2zM402 431h2v2h-2zM578 431h2v2h-2zM274 433h2v2h-2zM284 433h2v2h-2zM304 433h2v2h-2zM314 433h2v2h-2zM316 433h2v2h-2zM320 433h2v2h-2zM326 433h2v2h-2zM334 433h2v2h-2zM336 433h2v2h-2zM338 433h2v2h-2zM340 433h2v2h-2zM350 433h2v2h-2zM394 433h2v2h-2zM578 433h2v2h-2zM250 435h2v2h-2zM292 435h2v2h-2zM296 435h2v2h-2zM298 435h2v2h-2zM304 435h2v2h-2zM312 435h2v2h-2zM328 435h2v2h-2zM334 435h2v2h-2zM340 435h2v2h-2zM344 435h2v2h-2zM346 435h2v2h-2zM582 435h2v2h-2zM602 435h2v2h-2zM244 437h2v2h-2zM286 437h2v2h-2zM288 437h2v2h-2zM310 437h2v2h-2zM332 437h2v2h-2zM346 437h2v2h-2zM348 437h2v2h-2zM362 437h2v2h-2zM464 437h2v2h-2zM296 439h2v2h-2zM312 439h2v2h-2zM326 439h2v2h-2zM330 439h2v2h-2zM334 439h2v2h-2zM336 439h2v2h-2zM344 439h2v2h-2zM372 439h2v2h-2zM460 439h2v2h-2zM582 439h2v2h-2zM594 439h2v2h-2zM282 441h2v2h-2zM286 441h2v2h-2zM308 441h2v2h-2zM316 441h2v2h-2zM318 441h2v2h-2zM326 441h2v2h-2zM328 441h2v2h-2zM330 441h2v2h-2zM332 441h2v2h-2zM334 441h2v2h-2zM338 441h2v2h-2zM350 441h2v2h-2zM356 441h2v2h-2zM380 441h2v2h-2zM396 441h2v2h-2zM428 441h2v2h-2zM562 441h2v2h-2zM212 443h2v2h-2zM248 443h2v2h-2zM298 443h2v2h-2zM314 443h2v2h-2zM322 443h2v2h-2zM334 443h2v2h-2zM350 443h2v2h-2zM362 443h2v2h-2zM414 443h2v2h-2zM282 445h2v2h-2zM284 445h2v2h-2zM288 445h2v2h-2zM296 445h2v2h-2zM310 445h2v2h-2zM322 445h2v2h-2zM328 445h2v2h-2zM334 445h2v2h-2zM338 445h2v2h-2zM340 445h2v2h-2zM342 445h2v2h-2zM344 445h2v2h-2zM386 445h2v2h-2zM458 445h2v2h-2zM312 447h2v2h-2zM314 447h2v2h-2zM320 447h2v2h-2zM324 447h2v2h-2zM328 447h2v2h-2zM336 447h2v2h-2zM338 447h2v2h-2zM342 447h2v2h-2zM344 447h2v2h-2zM448 447h2v2h-2zM594 447h2v2h-2zM198 449h2v2h-2zM266 449h2v2h-2zM288 449h2v2h-2zM296 449h2v2h-2zM304 449h2v2h-2zM306 449h2v2h-2zM308 449h2v2h-2zM314 449h2v2h-2zM320 449h2v2h-2zM326 449h2v2h-2zM328 449h2v2h-2zM332 449h2v2h-2zM342 449h2v2h-2zM356 449h2v2h-2zM384 449h2v2h-2zM386 449h2v2h-2zM390 449h2v2h-2zM404 449h2v2h-2zM566 449h2v2h-2zM572 449h2v2h-2zM256 451h2v2h-2zM294 451h2v2h-2zM306 451h2v2h-2zM320 451h2v2h-2zM326 451h2v2h-2zM330 451h2v2h-2zM336 451h2v2h-2zM344 451h2v2h-2zM356 451h2v2h-2zM360 451h2v2h-2zM372 451h2v2h-2zM442 451h2v2h-2zM580 451h2v2h-2zM588 451h2v2h-2zM594 451h2v2h-2zM294 453h2v2h-2zM300 453h2v2h-2zM312 453h2v2h-2zM322 453h2v2h-2zM326 453h2v2h-2zM340 453h2v2h-2zM576 453h2v2h-2zM284 455h2v2h-2zM290 455h2v2h-2zM312 455h2v2h-2zM318 455h2v2h-2zM320 455h2v2h-2zM322 455h2v2h-2zM324 455h2v2h-2zM330 455h2v2h-2zM334 455h2v2h-2zM340 455h2v2h-2zM344 455h2v2h-2zM350 455h2v2h-2zM352 455h2v2h-2zM360 455h2v2h-2zM388 455h2v2h-2zM458 455h2v2h-2zM590 455h2v2h-2zM308 457h2v2h-2zM316 457h2v2h-2zM318 457h2v2h-2zM322 457h2v2h-2zM332 457h2v2h-2zM334 457h2v2h-2zM346 457h2v2h-2zM350 457h2v2h-2zM364 457h2v2h-2zM450 457h2v2h-2zM572 457h2v2h-2zM602 457h2v2h-2zM292 459h2v2h-2zM298 459h2v2h-2zM302 459h2v2h-2zM308 459h2v2h-2zM312 459h2v2h-2zM322 459h2v2h-2zM326 459h2v2h-2zM332 459h2v2h-2zM340 459h2v2h-2zM342 459h2v2h-2zM346 459h2v2h-2zM348 459h2v2h-2zM350 459h2v2h-2zM370 459h2v2h-2zM384 459h2v2h-2zM590 459h2v2h-2zM600 459h2v2h-2zM272 461h2v2h-2zM280 461h2v2h-2zM288 461h2v2h-2zM302 461h2v2h-2zM306 461h2v2h-2zM310 461h2v2h-2zM312 461h2v2h-2zM320 461h2v2h-2zM326 461h2v2h-2zM332 461h2v2h-2zM334 461h2v2h-2zM336 461h2v2h-2zM342 461h2v2h-2zM490 461h2v2h-2zM612 461h2v2h-2zM306 463h2v2h-2zM310 463h2v2h-2zM320 463h2v2h-2zM322 463h2v2h-2zM338 463h2v2h-2zM346 463h2v2h-2zM402 463h2v2h-2zM464 463h2v2h-2zM562 463h2v2h-2zM578 463h2v2h-2zM580 463h2v2h-2zM608 463h2v2h-2zM308 465h2v2h-2zM322 465h2v2h-2zM342 465h2v2h-2zM344 465h2v2h-2zM346 465h2v2h-2zM352 465h2v2h-2zM354 465h2v2h-2zM362 465h2v2h-2zM406 465h2v2h-2zM410 465h2v2h-2zM426 465h2v2h-2zM430 465h2v2h-2zM440 465h2v2h-2zM454 465h2v2h-2zM598 465h2v2h-2zM612 465h2v2h-2zM242 467h2v2h-2zM300 467h2v2h-2zM304 467h2v2h-2zM308 467h2v2h-2zM322 467h2v2h-2zM326 467h2v2h-2zM328 467h2v2h-2zM338 467h2v2h-2zM340 467h2v2h-2zM342 467h2v2h-2zM350 467h2v2h-2zM354 467h2v2h-2zM356 467h2v2h-2zM364 467h2v2h-2zM368 467h2v2h-2zM388 467h2v2h-2zM482 467h2v2h-2zM572 467h2v2h-2zM588 467h2v2h-2zM590 467h2v2h-2zM282 469h2v2h-2zM300 469h2v2h-2zM306 469h2v2h-2zM310 469h2v2h-2zM320 469h2v2h-2zM324 469h2v2h-2zM328 469h2v2h-2zM330 469h2v2h-2zM332 469h2v2h-2zM334 469h2v2h-2zM344 469h2v2h-2zM346 469h2v2h-2zM392 469h2v2h-2zM402 469h2v2h-2zM442 469h2v2h-2zM574 469h2v2h-2zM602 469h2v2h-2zM268 471h2v2h-2zM278 471h2v2h-2zM288 471h2v2h-2zM292 471h2v2h-2zM308 471h2v2h-2zM312 471h2v2h-2zM314 471h2v2h-2zM318 471h2v2h-2zM324 471h2v2h-2zM328 471h2v2h-2zM330 471h2v2h-2zM334 471h2v2h-2zM348 471h2v2h-2zM356 471h2v2h-2zM592 471h2v2h-2zM272 473h2v2h-2zM280 473h2v2h-2zM286 473h2v2h-2zM292 473h2v2h-2zM300 473h2v2h-2zM304 473h2v2h-2zM308 473h2v2h-2zM310 473h2v2h-2zM316 473h2v2h-2zM346 473h2v2h-2zM350 473h2v2h-2zM352 473h2v2h-2zM354 473h2v2h-2zM376 473h2v2h-2zM444 473h2v2h-2zM236 475h2v2h-2zM270 475h2v2h-2zM274 475h2v2h-2zM308 475h2v2h-2zM320 475h2v2h-2zM328 475h2v2h-2zM330 475h2v2h-2zM336 475h2v2h-2zM342 475h2v2h-2zM356 475h2v2h-2zM498 475h2v2h-2zM588 475h2v2h-2zM270 477h2v2h-2zM274 477h2v2h-2zM280 477h2v2h-2zM290 477h2v2h-2zM294 477h2v2h-2zM306 477h2v2h-2zM312 477h2v2h-2zM326 477h2v2h-2zM328 477h2v2h-2zM330 477h2v2h-2zM334 477h2v2h-2zM352 477h2v2h-2zM404 477h2v2h-2zM442 477h2v2h-2zM446 477h2v2h-2zM536 477h2v2h-2zM254 479h2v2h-2zM260 479h2v2h-2zM268 479h2v2h-2zM272 479h2v2h-2zM276 479h2v2h-2zM286 479h2v2h-2zM292 479h2v2h-2zM298 479h2v2h-2zM300 479h2v2h-2zM306 479h2v2h-2zM308 479h2v2h-2zM314 479h2v2h-2zM318 479h2v2h-2zM326 479h2v2h-2zM332 479h2v2h-2zM340 479h2v2h-2zM344 479h2v2h-2zM346 479h2v2h-2zM352 479h2v2h-2zM232 481h2v2h-2zM246 481h2v2h-2zM258 481h2v2h-2zM266 481h2v2h-2zM268 481h2v2h-2zM270 481h2v2h-2zM282 481h2v2h-2zM292 481h2v2h-2zM296 481h2v2h-2zM304 481h2v2h-2zM324 481h2v2h-2zM328 481h2v2h-2zM330 481h2v2h-2zM332 481h2v2h-2zM336 481h2v2h-2zM338 481h2v2h-2zM340 481h2v2h-2zM362 481h2v2h-2zM370 481h2v2h-2zM374 481h2v2h-2zM474 481h2v2h-2zM482 481h2v2h-2zM568 481h2v2h-2zM252 483h2v2h-2zM256 483h2v2h-2zM278 483h2v2h-2zM290 483h2v2h-2zM296 483h2v2h-2zM298 483h2v2h-2zM310 483h2v2h-2zM326 483h2v2h-2zM334 483h2v2h-2zM336 483h2v2h-2zM340 483h2v2h-2zM342 483h2v2h-2zM344 483h2v2h-2zM358 483h2v2h-2zM366 483h2v2h-2zM418 483h2v2h-2zM442 483h2v2h-2zM232 485h2v2h-2zM252 485h2v2h-2zM264 485h2v2h-2zM266 485h2v2h-2zM270 485h2v2h-2zM288 485h2v2h-2zM296 485h2v2h-2zM306 485h2v2h-2zM308 485h2v2h-2zM310 485h2v2h-2zM324 485h2v2h-2zM326 485h2v2h-2zM330 485h2v2h-2zM342 485h2v2h-2zM346 485h2v2h-2zM348 485h2v2h-2zM354 485h2v2h-2zM358 485h2v2h-2zM364 485h2v2h-2zM370 485h2v2h-2zM424 485h2v2h-2zM272 487h2v2h-2zM284 487h2v2h-2zM290 487h2v2h-2zM302 487h2v2h-2zM304 487h2v2h-2zM306 487h2v2h-2zM320 487h2v2h-2zM330 487h2v2h-2zM334 487h2v2h-2zM342 487h2v2h-2zM348 487h2v2h-2zM350 487h2v2h-2zM380 487h2v2h-2zM464 487h2v2h-2zM254 489h2v2h-2zM264 489h2v2h-2zM270 489h2v2h-2zM274 489h2v2h-2zM282 489h2v2h-2zM284 489h2v2h-2zM294 489h2v2h-2zM304 489h2v2h-2zM310 489h2v2h-2zM332 489h2v2h-2zM336 489h2v2h-2zM352 489h2v2h-2zM362 489h2v2h-2zM376 489h2v2h-2zM576 489h2v2h-2zM216 491h2v2h-2zM250 491h2v2h-2zM252 491h2v2h-2zM258 491h2v2h-2zM262 491h2v2h-2zM270 491h2v2h-2zM272 491h2v2h-2zM296 491h2v2h-2zM298 491h2v2h-2zM302 491h2v2h-2zM322 491h2v2h-2zM324 491h2v2h-2zM328 491h2v2h-2zM330 491h2v2h-2zM334 491h2v2h-2zM340 491h2v2h-2zM342 491h2v2h-2zM348 491h2v2h-2zM350 491h2v2h-2zM358 491h2v2h-2zM396 491h2v2h-2zM450 491h2v2h-2zM262 493h2v2h-2zM270 493h2v2h-2zM272 493h2v2h-2zM276 493h2v2h-2zM294 493h2v2h-2zM306 493h2v2h-2zM318 493h2v2h-2zM320 493h2v2h-2zM334 493h2v2h-2zM338 493h2v2h-2zM350 493h2v2h-2zM356 493h2v2h-2zM358 493h2v2h-2zM360 493h2v2h-2zM384 493h2v2h-2zM404 493h2v2h-2zM246 495h2v2h-2zM252 495h2v2h-2zM256 495h2v2h-2zM258 495h2v2h-2zM268 495h2v2h-2zM278 495h2v2h-2zM292 495h2v2h-2zM308 495h2v2h-2zM328 495h2v2h-2zM338 495h2v2h-2zM342 495h2v2h-2zM344 495h2v2h-2zM348 495h2v2h-2zM358 495h2v2h-2zM362 495h2v2h-2zM366 495h2v2h-2zM376 495h2v2h-2zM414 495h2v2h-2zM260 497h2v2h-2zM264 497h2v2h-2zM266 497h2v2h-2zM270 497h2v2h-2zM276 497h2v2h-2zM278 497h2v2h-2zM280 497h2v2h-2zM282 497h2v2h-2zM288 497h2v2h-2zM290 497h2v2h-2zM306 497h2v2h-2zM336 497h2v2h-2zM342 497h2v2h-2zM352 497h2v2h-2zM366 497h2v2h-2zM368 497h2v2h-2zM386 497h2v2h-2zM400 497h2v2h-2zM402 497h2v2h-2zM246 499h2v2h-2zM276 499h2v2h-2zM282 499h2v2h-2zM308 499h2v2h-2zM338 499h2v2h-2zM344 499h2v2h-2zM346 499h2v2h-2zM352 499h2v2h-2zM356 499h2v2h-2zM364 499h2v2h-2zM372 499h2v2h-2zM378 499h2v2h-2zM388 499h2v2h-2zM390 499h2v2h-2zM408 499h2v2h-2zM232 501h2v2h-2zM248 501h2v2h-2zM256 501h2v2h-2zM258 501h2v2h-2zM264 501h2v2h-2zM266 501h2v2h-2zM280 501h2v2h-2zM286 501h2v2h-2zM288 501h2v2h-2zM294 501h2v2h-2zM306 501h2v2h-2zM312 501h2v2h-2zM318 501h2v2h-2zM334 501h2v2h-2zM344 501h2v2h-2zM346 501h2v2h-2zM352 501h2v2h-2zM378 501h2v2h-2zM380 501h2v2h-2zM406 501h2v2h-2zM416 501h2v2h-2zM236 503h2v2h-2zM246 503h2v2h-2zM264 503h2v2h-2zM270 503h2v2h-2zM276 503h2v2h-2zM278 503h2v2h-2zM282 503h2v2h-2zM286 503h2v2h-2zM314 503h2v2h-2zM334 503h2v2h-2zM340 503h2v2h-2zM344 503h2v2h-2zM348 503h2v2h-2zM236 505h2v2h-2zM258 505h2v2h-2zM262 505h2v2h-2zM266 505h2v2h-2zM274 505h2v2h-2zM276 505h2v2h-2zM282 505h2v2h-2zM286 505h2v2h-2zM296 505h2v2h-2zM308 505h2v2h-2zM316 505h2v2h-2zM334 505h2v2h-2zM344 505h2v2h-2zM374 505h2v2h-2zM382 505h2v2h-2zM390 505h2v2h-2zM392 505h2v2h-2zM394 505h2v2h-2zM398 505h2v2h-2zM412 505h2v2h-2zM228 507h2v2h-2zM234 507h2v2h-2zM250 507h2v2h-2zM258 507h2v2h-2zM278 507h2v2h-2zM282 507h2v2h-2zM288 507h2v2h-2zM290 507h2v2h-2zM292 507h2v2h-2zM310 507h2v2h-2zM316 507h2v2h-2zM318 507h2v2h-2zM324 507h2v2h-2zM326 507h2v2h-2zM328 507h2v2h-2zM334 507h2v2h-2zM344 507h2v2h-2zM346 507h2v2h-2zM348 507h2v2h-2zM362 507h2v2h-2zM370 507h2v2h-2zM394 507h2v2h-2zM426 507h2v2h-2zM234 509h2v2h-2zM246 509h2v2h-2zM256 509h2v2h-2zM260 509h2v2h-2zM264 509h2v2h-2zM276 509h2v2h-2zM282 509h2v2h-2zM286 509h2v2h-2zM298 509h2v2h-2zM320 509h2v2h-2zM322 509h2v2h-2zM330 509h2v2h-2zM332 509h2v2h-2zM334 509h2v2h-2zM340 509h2v2h-2zM344 509h2v2h-2zM348 509h2v2h-2zM350 509h2v2h-2zM352 509h2v2h-2zM370 509h2v2h-2zM380 509h2v2h-2zM384 509h2v2h-2zM408 509h2v2h-2zM412 509h2v2h-2zM428 509h2v2h-2zM214 511h2v2h-2zM266 511h2v2h-2zM268 511h2v2h-2zM274 511h2v2h-2zM278 511h2v2h-2zM292 511h2v2h-2zM296 511h2v2h-2zM318 511h2v2h-2zM326 511h2v2h-2zM330 511h2v2h-2zM332 511h2v2h-2zM350 511h2v2h-2zM352 511h2v2h-2zM364 511h2v2h-2zM376 511h2v2h-2zM378 511h2v2h-2zM402 511h2v2h-2zM420 511h2v2h-2zM230 513h2v2h-2zM248 513h2v2h-2zM252 513h2v2h-2zM260 513h2v2h-2zM266 513h2v2h-2zM268 513h2v2h-2zM278 513h2v2h-2zM282 513h2v2h-2zM286 513h2v2h-2zM290 513h2v2h-2zM304 513h2v2h-2zM306 513h2v2h-2zM308 513h2v2h-2zM322 513h2v2h-2zM324 513h2v2h-2zM326 513h2v2h-2zM330 513h2v2h-2zM332 513h2v2h-2zM334 513h2v2h-2zM338 513h2v2h-2zM342 513h2v2h-2zM344 513h2v2h-2zM360 513h2v2h-2zM372 513h2v2h-2zM396 513h2v2h-2zM296 515h2v2h-2zM298 515h2v2h-2zM302 515h2v2h-2zM306 515h2v2h-2zM308 515h2v2h-2zM314 515h2v2h-2zM318 515h2v2h-2zM338 515h2v2h-2zM344 515h2v2h-2zM346 515h2v2h-2zM370 515h2v2h-2zM410 515h2v2h-2zM254 517h2v2h-2zM262 517h2v2h-2zM286 517h2v2h-2zM290 517h2v2h-2zM292 517h2v2h-2zM302 517h2v2h-2zM322 517h2v2h-2zM324 517h2v2h-2zM336 517h2v2h-2zM338 517h2v2h-2zM340 517h2v2h-2zM356 517h2v2h-2zM358 517h2v2h-2zM364 517h2v2h-2zM398 517h2v2h-2zM228 519h2v2h-2zM266 519h2v2h-2zM290 519h2v2h-2zM292 519h2v2h-2zM302 519h2v2h-2zM314 519h2v2h-2zM316 519h2v2h-2zM322 519h2v2h-2zM326 519h2v2h-2zM328 519h2v2h-2zM338 519h2v2h-2zM342 519h2v2h-2zM346 519h2v2h-2zM394 519h2v2h-2zM270 521h2v2h-2zM276 521h2v2h-2zM292 521h2v2h-2zM294 521h2v2h-2zM310 521h2v2h-2zM314 521h2v2h-2zM344 521h2v2h-2zM356 521h2v2h-2zM360 521h2v2h-2zM260 523h2v2h-2zM266 523h2v2h-2zM274 523h2v2h-2zM290 523h2v2h-2zM292 523h2v2h-2zM294 523h2v2h-2zM346 523h2v2h-2zM356 523h2v2h-2zM292 525h2v2h-2zM296 525h2v2h-2zM302 525h2v2h-2zM308 525h2v2h-2zM332 525h2v2h-2zM334 525h2v2h-2zM340 525h2v2h-2zM304 527h2v2h-2zM316 527h2v2h-2zM318 527h2v2h-2zM346 527h2v2h-2zM248 529h2v2h-2zM348 529h2v2h-2zM386 529h2v2h-2zM264 531h2v2h-2zM298 531h2v2h-2zM304 531h2v2h-2zM368 531h2v2h-2zM292 533h2v2h-2zM324 533h2v2h-2zM330 533h2v2h-2zM318 535h2v2h-2zM388 537h2v2h-2z"/>
<path fill="#00ff00" d="M308 39h2v2h-2zM328 39h2v2h-2zM330 39h2v2h-2zM334 39h2v2h-2zM344 39h2v2h-2zM354 39h2v2h-2zM364 39h2v2h-2zM372 39h2v2h-2zM374 39h2v2h-2zM376 39h2v2h-2zM380 39h2v2h-2zM344 41h2v2h-2zM314 65h2v2h-2zM308 101h2v2h-2zM330 101h2v2h-2zM316 115h2v2h-2zM346 125h2v2h-2zM330 127h2v2h-2zM338 131h2v2h-2zM332 137h2v2h-2zM310 141h2v2h-2zM338 143h2v2h-2zM358 147h2v2h-2zM312 157h2v2h-2zM328 159h2v2h-2zM314 165h2v2h-2zM346 165h2v2h-2zM306 169h2v2h-2zM346 175h2v2h-2zM322 177h2v2h-2zM320 179h2v2h-2zM322 179h2v2h-2zM328 179h2v2h-2zM338 179h2v2h-2zM360 181h2v2h-2zM336 183h2v2h-2zM322 185h2v2h-2zM336 189h2v2h-2zM318 193h2v2h-2zM322 193h2v2h-2zM348 195h2v2h-2zM316 197h2v2h-2zM326 199h2v2h-2zM342 199h2v2h-2zM352 199h2v2h-2zM316 201h2v2h-2zM286 205h2v2h-2zM306 205h2v2h-2zM326 205h2v2h-2zM312 207h2v2h-2zM328 207h2v2h-2zM314 209h2v2h-2zM310 211h2v2h-2zM316 211h2v2h-2zM332 211h2v2h-2zM342 211h2v2h-2zM312 213h2v2h-2zM344 213h2v2h-2zM342 215h2v2h-2zM336 217h2v2h-2zM304 219h2v2h-2zM320 221h2v2h-2zM324 221h2v2h-2zM346 221h2v2h-2zM312 225h2v2h-2zM346 225h2v2h-2zM336 227h2v2h-2zM350 227h2v2h-2zM300 229h2v2h-2zM322 233h2v2h-2zM332 233h2v2h-2zM302 237h2v2h-2zM318 237h2v2h-2zM328 237h2v2h-2zM310 239h2v2h-2zM312 241h2v2h-2zM324 241h2v2h-2zM344 241h2v2h-2zM328 243h2v2h-2zM322 245h2v2h-2zM326 245h2v2h-2zM330 245h2v2h-2zM344 245h2v2h-2zM296 247h2v2h-2zM314 247h2v2h-2zM310 249h2v2h-2zM330 249h2v2h-2zM340 249h2v2h-2zM316 251h2v2h-2zM284 253h2v2h-2zM322 253h2v2h-2zM324 253h2v2h-2zM332 253h2v2h-2zM338 253h2v2h-2zM316 257h2v2h-2zM324 257h2v2h-2zM336 257h2v2h-2zM306 259h2v2h-2zM326 259h2v2h-2zM342 259h2v2h-2zM346 259h2v2h-2zM352 259h2v2h-2zM326 261h2v2h-2zM332 261h2v2h-2zM336 261h2v2h-2zM350 261h2v2h-2zM308 263h2v2h-2zM332 263h2v2h-2zM316 265h2v2h-2zM328 265h2v2h-2zM340 265h2v2h-2zM348 265h2v2h-2zM316 267h2v2h-2zM326 267h2v2h-2zM292 269h2v2h-2zM318 269h2v2h-2zM326 269h2v2h-2zM328 269h2v2h-2zM342 269h2v2h-2zM344 269h2v2h-2zM346 269h2v2h-2zM302 271h2v2h-2zM338 271h2v2h-2zM346 271h2v2h-2zM296 273h2v2h-2zM302 273h2v2h-2zM324 273h2v2h-2zM340 273h2v2h-2zM348 273h2v2h-2zM286 275h2v2h-2zM322 275h2v2h-2zM340 275h2v2h-2zM346 275h2v2h-2zM302 277h2v2h-2zM322 277h2v2h-2zM336 277h2v2h-2zM338 277h2v2h-2zM300 279h2v2h-2zM326 279h2v2h-2zM340 279h2v2h-2zM348 279h2v2h-2zM334 281h2v2h-2zM342 281h2v2h-2zM346 281h2v2h-2zM320 283h2v2h-2zM326 283h2v2h-2zM334 283h2v2h-2zM342 283h2v2h-2zM344 283h2v2h-2zM318 285h2v2h-2zM320 285h2v2h-2zM334 285h2v2h-2zM336 285h2v2h-2zM348 285h2v2h-2zM362 285h2v2h-2zM312 287h2v2h-2zM324 287h2v2h-2zM348 287h2v2h-2zM308 289h2v2h-2zM326 289h2v2h-2zM334 289h2v2h-2zM340 289h2v2h-2zM304 291h2v2h-2zM324 291h2v2h-2zM346 291h2v2h-2zM324 293h2v2h-2zM326 293h2v2h-2zM328 293h2v2h-2zM330 293h2v2h-2zM334 293h2v2h-2zM338 293h2v2h-2zM340 293h2v2h-2zM354 293h2v2h-2zM296 295h2v2h-2zM300 295h2v2h-2zM304 295h2v2h-2zM310 295h2v2h-2zM314 295h2v2h-2zM318 295h2v2h-2zM328 295h2v2h-2zM336 295h2v2h-2zM360 295h2v2h-2zM316 297h2v2h-2zM318 297h2v2h-2zM336 297h2v2h-2zM346 297h2v2h-2zM316 299h2v2h-2zM326 299h2v2h-2zM334 299h2v2h-2zM346 299h2v2h-2zM354 299h2v2h-2zM294 301h2v2h-2zM304 301h2v2h-2zM322 301h2v2h-2zM330 301h2v2h-2zM332 301h2v2h-2zM334 301h2v2h-2zM336 301h2v2h-2zM338 301h2v2h-2zM342 301h2v2h-2zM344 301h2v2h-2zM320 303h2v2h-2zM344 303h2v2h-2zM348 303h2v2h-2zM350 303h2v2h-2zM276 305h2v2h-2zM288 305h2v2h-2zM318 305h2v2h-2zM322 305h2v2h-2zM346 305h2v2h-2zM308 307h2v2h-2zM312 307h2v2h-2zM318 307h2v2h-2zM330 307h2v2h-2zM336 307h2v2h-2zM340 307h2v2h-2zM344 307h2v2h-2zM320 309h2v2h-2zM328 309h2v2h-2zM332 309h2v2h-2zM338 309h2v2h-2zM300 311h2v2h-2zM318 311h2v2h-2zM320 311h2v2h-2zM322 311h2v2h-2zM328 311h2v2h-2zM334 311h2v2h-2zM344 311h2v2h-2zM308 313h2v2h-2zM318 313h2v2h-2zM322 313h2v2h-2zM324 313h2v2h-2zM326 313h2v2h-2zM336 313h2v2h-2zM348 313h2v2h-2zM312 315h2v2h-2zM336 315h2v2h-2zM350 315h2v2h-2zM358 315h2v2h-2zM298 317h2v2h-2zM332 317h2v2h-2zM338 317h2v2h-2zM308 319h2v2h-2zM310 319h2v2h-2zM312 319h2v2h-2zM326 319h2v2h-2zM336 319h2v2h-2zM370 319h2v2h-2zM324 321h2v2h-2zM328 321h2v2h-2zM344 321h2v2h-2zM318 323h2v2h-2zM320 323h2v2h-2zM322 323h2v2h-2zM326 323h2v2h-2zM346 323h2v2h-2zM308 325h2v2h-2zM326 325h2v2h-2zM360 325h2v2h-2zM296 327h2v2h-2zM298 327h2v2h-2zM310 327h2v2h-2zM320 327h2v2h-2zM330 327h2v2h-2zM340 327h2v2h-2zM342 327h2v2h-2zM350 327h2v2h-2zM352 327h2v2h-2zM310 329h2v2h-2zM314 329h2v2h-2zM326 329h2v2h-2zM328 329h2v2h-2zM330 329h2v2h-2zM336 329h2v2h-2zM348 329h2v2h-2zM328 331h2v2h-2zM330 331h2v2h-2zM302 333h2v2h-2zM318 333h2v2h-2zM324 333h2v2h-2zM328 333h2v2h-2zM332 333h2v2h-2zM342 333h2v2h-2zM346 333h2v2h-2zM302 335h2v2h-2zM330 335h2v2h-2zM334 335h2v2h-2zM340 335h2v2h-2zM312 337h2v2h-2zM334 337h2v2h-2zM342 337h2v2h-2zM348 337h2v2h-2zM352 337h2v2h-2zM308 339h2v2h-2zM318 339h2v2h-2zM324 339h2v2h-2zM334 339h2v2h-2zM344 339h2v2h-2zM284 341h2v2h-2zM304 341h2v2h-2zM314 341h2v2h-2zM340 341h2v2h-2zM346 341h2v2h-2zM350 341h2v2h-2zM302 343h2v2h-2zM314 343h2v2h-2zM316 343h2v2h-2zM324 343h2v2h-2zM326 343h2v2h-2zM338 343h2v2h-2zM344 343h2v2h-2zM312 345h2v2h-2zM314 345h2v2h-2zM340 345h2v2h-2zM342 345h2v2h-2zM344 345h2v2h-2zM346 345h2v2h-2zM282 347h2v2h-2zM342 347h2v2h-2zM350 347h2v2h-2zM316 349h2v2h-2zM320 349h2v2h-2zM322 349h2v2h-2zM346 349h2v2h-2zM308 351h2v2h-2zM320 351h2v2h-2zM330 351h2v2h-2zM332 351h2v2h-2zM336 351h2v2h-2zM302 353h2v2h-2zM310 353h2v2h-2zM320 353h2v2h-2zM322 353h2v2h-2zM336 353h2v2h-2zM338 353h2v2h-2zM354 353h2v2h-2zM324 355h2v2h-2zM330 355h2v2h-2zM338 355h2v2h-2zM344 355h2v2h-2zM300 357h2v2h-2zM304 357h2v2h-2zM308 357h2v2h-2zM314 357h2v2h-2zM316 357h2v2h-2zM330 357h2v2h-2zM340 357h2v2h-2zM346 357h2v2h-2zM310 359h2v2h-2zM322 359h2v2h-2zM326 359h2v2h-2zM344 359h2v2h-2zM346 359h2v2h-2zM370 359h2v2h-2zM304 361h2v2h-2zM320 361h2v2h-2zM322 361h2v2h-2zM326 361h2v2h-2zM330 361h2v2h-2zM340 361h2v2h-2zM350 361h2v2h-2zM326 363h2v2h-2zM332 363h2v2h-2zM360 363h2v2h-2zM314 365h2v2h-2zM316 365h2v2h-2zM320 365h2v2h-2zM338 365h2v2h-2zM304 367h2v2h-2zM306 367h2v2h-2zM312 367h2v2h-2zM328 367h2v2h-2zM336 367h2v2h-2zM340 367h2v2h-2zM350 367h2v2h-2zM354 367h2v2h-2zM358 367h2v2h-2zM300 369h2v2h-2zM318 369h2v2h-2zM324 369h2v2h-2zM340 369h2v2h-2zM342 369h2v2h-2zM344 369h2v2h-2zM348 369h2v2h-2zM350 369h2v2h-2zM352 369h2v2h-2zM314 371h2v2h-2zM316 371h2v2h-2zM330 371h2v2h-2zM334 371h2v2h-2zM340 371h2v2h-2zM346 371h2v2h-2zM352 371h2v2h-2zM296 373h2v2h-2zM310 373h2v2h-2zM322 373h2v2h-2zM328 373h2v2h-2zM332 373h2v2h-2zM336 373h2v2h-2zM340 373h2v2h-2zM344 373h2v2h-2zM354 373h2v2h-2zM314 375h2v2h-2zM324 375h2v2h-2zM330 375h2v2h-2zM332 375h2v2h-2zM334 375h2v2h-2zM336 375h2v2h-2zM338 375h2v2h-2zM344 375h2v2h-2zM346 375h2v2h-2zM312 377h2v2h-2zM318 377h2v2h-2zM340 377h2v2h-2zM348 377h2v2h-2zM292 379h2v2h-2zM308 379h2v2h-2zM318 379h2v2h-2zM328 379h2v2h-2zM332 379h2v2h-2zM336 379h2v2h-2zM340 379h2v2h-2zM348 379h2v2h-2zM298 381h2v2h-2zM308 381h2v2h-2zM312 381h2v2h-2zM320 381h2v2h-2zM326 381h2v2h-2zM330 381h2v2h-2zM332 381h2v2h-2zM334 381h2v2h-2zM340 381h2v2h-2zM344 381h2v2h-2zM350 381h2v2h-2zM352 381h2v2h-2zM308 383h2v2h-2zM328 383h2v2h-2zM332 383h2v2h-2zM340 383h2v2h-2zM368 383h2v2h-2zM308 385h2v2h-2zM310 385h2v2h-2zM312 385h2v2h-2zM316 385h2v2h-2zM322 385h2v2h-2zM330 385h2v2h-2zM338 385h2v2h-2zM348 385h2v2h-2zM354 385h2v2h-2zM328 387h2v2h-2zM346 387h2v2h-2zM360 387h2v2h-2zM316 389h2v2h-2zM330 389h2v2h-2zM336 389h2v2h-2zM350 389h2v2h-2zM318 391h2v2h-2zM338 391h2v2h-2zM348 391h2v2h-2zM354 391h2v2h-2zM310 393h2v2h-2zM314 393h2v2h-2zM330 393h2v2h-2zM344 393h2v2h-2zM312 395h2v2h-2zM324 395h2v2h-2zM326 395h2v2h-2zM342 395h2v2h-2zM352 395h2v2h-2zM298 397h2v2h-2zM318 397h2v2h-2zM324 397h2v2h-2zM326 397h2v2h-2zM334 397h2v2h-2zM338 397h2v2h-2zM344 397h2v2h-2zM314 399h2v2h-2zM320 399h2v2h-2zM326 399h2v2h-2zM328 399h2v2h-2zM330 399h2v2h-2zM332 399h2v2h-2zM338 399h2v2h-2zM352 399h2v2h-2zM320 401h2v2h-2zM326 401h2v2h-2zM328 401h2v2h-2zM334 401h2v2h-2zM336 401h2v2h-2zM338 401h2v2h-2zM314 403h2v2h-2zM318 403h2v2h-2zM324 403h2v2h-2zM332 403h2v2h-2zM340 403h2v2h-2zM346 403h2v2h-2zM310 405h2v2h-2zM318 405h2v2h-2zM320 405h2v2h-2zM322 405h2v2h-2zM332 405h2v2h-2zM334 405h2v2h-2zM342 405h2v2h-2zM338 407h2v2h-2zM304 409h2v2h-2zM324 409h2v2h-2zM334 409h2v2h-2zM342 409h2v2h-2zM318 411h2v2h-2zM334 411h2v2h-2zM306 413h2v2h-2zM312 413h2v2h-2zM324 413h2v2h-2zM328 413h2v2h-2zM332 413h2v2h-2zM320 415h2v2h-2zM336 415h2v2h-2zM338 415h2v2h-2zM340 415h2v2h-2zM346 415h2v2h-2zM348 417h2v2h-2zM310 419h2v2h-2zM328 419h2v2h-2zM332 419h2v2h-2zM334 419h2v2h-2zM342 419h2v2h-2zM310 421h2v2h-2zM312 421h2v2h-2zM318 421h2v2h-2zM342 421h2v2h-2zM310 423h2v2h-2zM320 425h2v2h-2zM334 425h2v2h-2zM310 427h2v2h-2zM322 427h2v2h-2zM348 427h2v2h-2zM336 429h2v2h-2zM322 431h2v2h-2zM334 431h2v2h-2zM324 433h2v2h-2zM328 433h2v2h-2zM294 435h2v2h-2zM324 435h2v2h-2zM330 437h2v2h-2zM344 437h2v2h-2zM342 439h2v2h-2zM296 441h2v2h-2zM342 441h2v2h-2zM316 443h2v2h-2zM326 443h2v2h-2zM332 443h2v2h-2zM310 449h2v2h-2zM318 449h2v2h-2zM338 449h2v2h-2zM300 451h2v2h-2zM312 451h2v2h-2zM354 451h2v2h-2zM290 453h2v2h-2zM344 453h2v2h-2zM316 455h2v2h-2zM326 455h2v2h-2zM328 455h2v2h-2zM324 457h2v2h-2zM326 457h2v2h-2zM330 457h2v2h-2zM340 457h2v2h-2zM316 459h2v2h-2zM338 459h2v2h-2zM318 461h2v2h-2zM322 461h2v2h-2zM318 463h2v2h-2zM314 465h2v2h-2zM316 467h2v2h-2zM348 467h2v2h-2zM312 469h2v2h-2zM314 469h2v2h-2zM318 469h2v2h-2zM320 471h2v2h-2zM322 471h2v2h-2zM326 471h2v2h-2zM318 473h2v2h-2zM328 473h2v2h-2zM344 473h2v2h-2zM294 475h2v2h-2zM300 475h2v2h-2zM324 475h2v2h-2zM316 477h2v2h-2zM294 479h2v2h-2zM312 479h2v2h-2zM322 479h2v2h-2zM324 479h2v2h-2zM328 479h2v2h-2zM330 479h2v2h-2zM334 479h2v2h-2zM286 481h2v2h-2zM298 481h2v2h-2zM306 481h2v2h-2zM316 481h2v2h-2zM322 481h2v2h-2zM326 481h2v2h-2zM354 481h2v2h-2zM260 483h2v2h-2zM288 483h2v2h-2zM300 483h2v2h-2zM302 483h2v2h-2zM304 483h2v2h-2zM308 483h2v2h-2zM314 483h2v2h-2zM316 483h2v2h-2zM320 483h2v2h-2zM330 483h2v2h-2zM338 483h2v2h-2zM254 485h2v2h-2zM260 485h2v2h-2zM292 485h2v2h-2zM298 485h2v2h-2zM302 485h2v2h-2zM304 485h2v2h-2zM312 485h2v2h-2zM318 485h2v2h-2zM322 485h2v2h-2zM332 485h2v2h-2zM334 485h2v2h-2zM336 485h2v2h-2zM278 487h2v2h-2zM292 487h2v2h-2zM298 487h2v2h-2zM336 487h2v2h-2zM290 489h2v2h-2zM292 489h2v2h-2zM296 489h2v2h-2zM300 489h2v2h-2zM302 489h2v2h-2zM308 489h2v2h-2zM312 489h2v2h-2zM316 489h2v2h-2zM318 489h2v2h-2zM328 489h2v2h-2zM330 489h2v2h-2zM338 489h2v2h-2zM342 489h2v2h-2zM282 491h2v2h-2zM284 491h2v2h-2zM286 491h2v2h-2zM288 491h2v2h-2zM292 491h2v2h-2zM294 491h2v2h-2zM300 491h2v2h-2zM306 491h2v2h-2zM308 491h2v2h-2zM310 491h2v2h-2zM312 491h2v2h-2zM316 491h2v2h-2zM318 491h2v2h-2zM332 491h2v2h-2zM338 491h2v2h-2zM346 491h2v2h-2zM280 493h2v2h-2zM286 493h2v2h-2zM324 493h2v2h-2zM326 493h2v2h-2zM328 493h2v2h-2zM344 493h2v2h-2zM346 493h2v2h-2zM348 493h2v2h-2zM364 493h2v2h-2zM274 495h2v2h-2zM276 495h2v2h-2zM284 495h2v2h-2zM286 495h2v2h-2zM290 495h2v2h-2zM320 495h2v2h-2zM324 495h2v2h-2zM330 495h2v2h-2zM334 495h2v2h-2zM346 495h2v2h-2zM258 497h2v2h-2zM292 497h2v2h-2zM302 497h2v2h-2zM314 497h2v2h-2zM326 497h2v2h-2zM330 497h2v2h-2zM332 497h2v2h-2zM340 497h2v2h-2zM346 497h2v2h-2zM260 499h2v2h-2zM272 499h2v2h-2zM278 499h2v2h-2zM286 499h2v2h-2zM292 499h2v2h-2zM306 499h2v2h-2zM328 499h2v2h-2zM332 499h2v2h-2zM334 499h2v2h-2zM336 499h2v2h-2zM340 499h2v2h-2zM278 501h2v2h-2zM282 501h2v2h-2zM292 501h2v2h-2zM296 501h2v2h-2zM304 501h2v2h-2zM310 501h2v2h-2zM314 501h2v2h-2zM320 501h2v2h-2zM324 501h2v2h-2zM328 501h2v2h-2zM332 501h2v2h-2zM258 503h2v2h-2zM272 503h2v2h-2zM280 503h2v2h-2zM284 503h2v2h-2zM294 503h2v2h-2zM302 503h2v2h-2zM312 503h2v2h-2zM320 503h2v2h-2zM342 503h2v2h-2zM346 503h2v2h-2zM350 503h2v2h-2zM254 505h2v2h-2zM280 505h2v2h-2zM290 505h2v2h-2zM292 505h2v2h-2zM298 505h2v2h-2zM300 505h2v2h-2zM302 505h2v2h-2zM304 505h2v2h-2zM306 505h2v2h-2zM312 505h2v2h-2zM314 505h2v2h-2zM320 505h2v2h-2zM330 505h2v2h-2zM332 505h2v2h-2zM336 505h2v2h-2zM338 505h2v2h-2zM280 507h2v2h-2zM286 507h2v2h-2zM320 507h2v2h-2zM336 507h2v2h-2zM350 507h2v2h-2zM280 509h2v2h-2zM288 509h2v2h-2zM294 509h2v2h-2zM300 509h2v2h-2zM306 509h2v2h-2zM310 509h2v2h-2zM312 509h2v2h-2zM314 509h2v2h-2zM284 511h2v2h-2zM290 511h2v2h-2zM298 511h2v2h-2zM300 511h2v2h-2zM310 511h2v2h-2zM312 511h2v2h-2zM322 511h2v2h-2zM324 511h2v2h-2zM336 511h2v2h-2zM338 511h2v2h-2zM354 511h2v2h-2zM256 513h2v2h-2zM288 513h2v2h-2zM294 513h2v2h-2zM296 513h2v2h-2zM300 513h2v2h-2zM312 513h2v2h-2zM318 513h2v2h-2zM320 513h2v2h-2zM350 513h2v2h-2zM310 515h2v2h-2zM312 515h2v2h-2zM326 515h2v2h-2zM300 517h2v2h-2zM304 517h2v2h-2zM332 517h2v2h-2zM346 517h2v2h-2zM278 519h2v2h-2zM348 519h2v2h-2zM304 521h2v2h-2zM272 523h2v2h-2zM318 523h2v2h-2zM274 525h2v2h-2z"/>
<path fill="#ffff00" d="M312 39h2v2h-2zM314 39h2v2h-2zM332 39h2v2h-2zM342 39h2v2h-2zM350 39h2v2h-2zM352 39h2v2h-2zM358 39h2v2h-2zM362 39h2v2h-2zM316 187h2v2h-2zM304 199h2v2h-2zM334 203h2v2h-2zM310 205h2v2h-2zM316 225h2v2h-2zM314 227h2v2h-2zM308 233h2v2h-2zM338 237h2v2h-2zM346 237h2v2h-2zM320 243h2v2h-2zM316 249h2v2h-2zM322 249h2v2h-2zM326 249h2v2h-2zM328 249h2v2h-2zM326 251h2v2h-2zM334 251h2v2h-2zM334 255h2v2h-2zM314 257h2v2h-2zM332 257h2v2h-2zM318 259h2v2h-2zM330 263h2v2h-2zM330 271h2v2h-2zM332 273h2v2h-2zM344 273h2v2h-2zM332 275h2v2h-2zM318 277h2v2h-2zM326 277h2v2h-2zM330 279h2v2h-2zM332 279h2v2h-2zM338 279h2v2h-2zM332 285h2v2h-2zM326 287h2v2h-2zM334 287h2v2h-2zM336 287h2v2h-2zM340 287h2v2h-2zM328 289h2v2h-2zM312 291h2v2h-2zM342 291h2v2h-2zM316 293h2v2h-2zM332 293h2v2h-2zM294 295h2v2h-2zM342 295h2v2h-2zM344 295h2v2h-2zM346 295h2v2h-2zM322 297h2v2h-2zM330 297h2v2h-2zM338 299h2v2h-2zM340 299h2v2h-2zM328 301h2v2h-2zM322 303h2v2h-2zM346 303h2v2h-2zM334 305h2v2h-2zM338 305h2v2h-2zM340 305h2v2h-2zM344 305h2v2h-2zM326 307h2v2h-2zM346 307h2v2h-2zM350 307h2v2h-2zM310 309h2v2h-2zM312 311h2v2h-2zM324 311h2v2h-2zM314 313h2v2h-2zM340 313h2v2h-2zM342 313h2v2h-2zM326 315h2v2h-2zM340 315h2v2h-2zM320 317h2v2h-2zM328 317h2v2h-2zM336 317h2v2h-2zM342 317h2v2h-2zM356 317h2v2h-2zM340 321h2v2h-2zM342 321h2v2h-2zM332 323h2v2h-2zM336 323h2v2h-2zM312 325h2v2h-2zM344 325h2v2h-2zM312 327h2v2h-2zM318 327h2v2h-2zM328 327h2v2h-2zM336 327h2v2h-2zM322 329h2v2h-2zM324 329h2v2h-2zM332 329h2v2h-2zM318 331h2v2h-2zM322 333h2v2h-2zM336 333h2v2h-2zM332 335h2v2h-2zM338 335h2v2h-2zM358 335h2v2h-2zM310 337h2v2h-2zM332 337h2v2h-2zM316 339h2v2h-2zM322 339h2v2h-2zM340 339h2v2h-2zM320 341h2v2h-2zM326 341h2v2h-2zM328 341h2v2h-2zM334 341h2v2h-2zM332 343h2v2h-2zM334 343h2v2h-2zM326 345h2v2h-2zM328 345h2v2h-2zM338 345h2v2h-2zM320 347h2v2h-2zM334 349h2v2h-2zM348 349h2v2h-2zM334 351h2v2h-2zM314 353h2v2h-2zM326 353h2v2h-2zM340 353h2v2h-2zM312 355h2v2h-2zM332 355h2v2h-2zM340 355h2v2h-2zM346 355h2v2h-2zM326 357h2v2h-2zM342 357h2v2h-2zM344 357h2v2h-2zM306 359h2v2h-2zM318 359h2v2h-2zM360 359h2v2h-2zM316 361h2v2h-2zM324 361h2v2h-2zM338 361h2v2h-2zM342 361h2v2h-2zM316 363h2v2h-2zM334 363h2v2h-2zM336 365h2v2h-2zM344 365h2v2h-2zM346 367h2v2h-2zM320 369h2v2h-2zM334 369h2v2h-2zM332 371h2v2h-2zM316 373h2v2h-2zM318 373h2v2h-2zM318 375h2v2h-2zM320 375h2v2h-2zM328 375h2v2h-2zM316 377h2v2h-2zM328 377h2v2h-2zM330 377h2v2h-2zM344 377h2v2h-2zM322 381h2v2h-2zM336 381h2v2h-2zM346 381h2v2h-2zM322 383h2v2h-2zM344 383h2v2h-2zM314 387h2v2h-2zM318 387h2v2h-2zM320 387h2v2h-2zM344 387h2v2h-2zM314 389h2v2h-2zM320 389h2v2h-2zM324 389h2v2h-2zM334 391h2v2h-2zM336 391h2v2h-2zM332 393h2v2h-2zM340 393h2v2h-2zM320 395h2v2h-2zM332 395h2v2h-2zM334 395h2v2h-2zM324 399h2v2h-2zM336 399h2v2h-2zM326 403h2v2h-2zM324 405h2v2h-2zM322 407h2v2h-2zM332 407h2v2h-2zM340 407h2v2h-2zM344 407h2v2h-2zM324 411h2v2h-2zM328 417h2v2h-2zM322 419h2v2h-2zM320 421h2v2h-2zM324 421h2v2h-2zM330 421h2v2h-2zM318 423h2v2h-2zM320 423h2v2h-2zM318 425h2v2h-2zM324 425h2v2h-2zM320 427h2v2h-2zM324 431h2v2h-2zM334 437h2v2h-2zM338 437h2v2h-2zM316 439h2v2h-2zM320 439h2v2h-2zM330 443h2v2h-2zM322 449h2v2h-2zM322 451h2v2h-2zM324 451h2v2h-2zM338 465h2v2h-2zM334 475h2v2h-2zM298 477h2v2h-2zM320 479h2v2h-2zM342 479h2v2h-2zM310 481h2v2h-2zM314 481h2v2h-2zM318 481h2v2h-2zM322 483h2v2h-2zM324 483h2v2h-2zM328 483h2v2h-2zM314 485h2v2h-2zM316 485h2v2h-2zM320 485h2v2h-2zM294 487h2v2h-2zM296 487h2v2h-2zM300 487h2v2h-2zM308 487h2v2h-2zM322 487h2v2h-2zM326 487h2v2h-2zM328 487h2v2h-2zM340 487h2v2h-2zM286 489h2v2h-2zM306 489h2v2h-2zM314 489h2v2h-2zM274 491h2v2h-2zM278 491h2v2h-2zM290 491h2v2h-2zM288 493h2v2h-2zM292 493h2v2h-2zM302 493h2v2h-2zM304 493h2v2h-2zM308 493h2v2h-2zM314 493h2v2h-2zM316 493h2v2h-2zM336 493h2v2h-2zM280 495h2v2h-2zM302 495h2v2h-2zM304 495h2v2h-2zM306 495h2v2h-2zM312 495h2v2h-2zM318 495h2v2h-2zM322 495h2v2h-2zM332 495h2v2h-2zM296 497h2v2h-2zM298 497h2v2h-2zM320 497h2v2h-2zM322 497h2v2h-2zM328 497h2v2h-2zM344 497h2v2h-2zM284 499h2v2h-2zM288 499h2v2h-2zM290 499h2v2h-2zM304 499h2v2h-2zM310 499h2v2h-2zM314 499h2v2h-2zM322 499h2v2h-2zM326 499h2v2h-2zM348 499h2v2h-2zM362 499h2v2h-2zM276 501h2v2h-2zM336 501h2v2h-2zM340 501h2v2h-2zM288 503h2v2h-2zM296 503h2v2h-2zM300 503h2v2h-2zM308 503h2v2h-2zM322 503h2v2h-2zM324 503h2v2h-2zM336 503h2v2h-2zM310 505h2v2h-2zM318 505h2v2h-2zM350 505h2v2h-2zM294 507h2v2h-2zM304 507h2v2h-2zM306 507h2v2h-2zM322 507h2v2h-2zM332 507h2v2h-2zM302 509h2v2h-2zM304 509h2v2h-2zM316 509h2v2h-2zM318 509h2v2h-2zM326 509h2v2h-2zM276 511h2v2h-2zM280 511h2v2h-2zM294 511h2v2h-2zM302 511h2v2h-2zM304 511h2v2h-2zM308 511h2v2h-2zM316 511h2v2h-2zM328 511h2v2h-2zM334 511h2v2h-2zM292 513h2v2h-2zM302 513h2v2h-2zM310 513h2v2h-2zM332 515h2v2h-2z"/>
<path fill="#ff6600" d="M338 39h2v2h-2zM326 271h2v2h-2zM328 277h2v2h-2zM334 277h2v2h-2zM324 281h2v2h-2zM326 281h2v2h-2zM328 281h2v2h-2zM324 283h2v2h-2zM340 291h2v2h-2zM344 309h2v2h-2zM326 311h2v2h-2zM334 313h2v2h-2zM344 313h2v2h-2zM322 317h2v2h-2zM328 323h2v2h-2zM316 329h2v2h-2zM340 329h2v2h-2zM322 331h2v2h-2zM338 331h2v2h-2zM332 341h2v2h-2zM344 349h2v2h-2zM316 351h2v2h-2zM342 351h2v2h-2zM322 355h2v2h-2zM332 357h2v2h-2zM328 359h2v2h-2zM334 359h2v2h-2zM340 359h2v2h-2zM344 361h2v2h-2zM322 363h2v2h-2zM334 365h2v2h-2zM322 367h2v2h-2zM310 369h2v2h-2zM314 369h2v2h-2zM316 375h2v2h-2zM326 377h2v2h-2zM318 381h2v2h-2zM314 383h2v2h-2zM334 383h2v2h-2zM328 393h2v2h-2zM346 393h2v2h-2zM330 397h2v2h-2zM332 397h2v2h-2zM340 401h2v2h-2zM342 401h2v2h-2zM336 403h2v2h-2zM336 405h2v2h-2zM314 407h2v2h-2zM314 415h2v2h-2zM330 447h2v2h-2zM324 449h2v2h-2zM316 471h2v2h-2zM300 485h2v2h-2zM310 487h2v2h-2zM312 487h2v2h-2zM316 487h2v2h-2zM324 487h2v2h-2zM320 489h2v2h-2zM322 489h2v2h-2zM324 489h2v2h-2zM314 491h2v2h-2zM320 491h2v2h-2zM326 491h2v2h-2zM336 491h2v2h-2zM282 493h2v2h-2zM290 493h2v2h-2zM300 493h2v2h-2zM322 493h2v2h-2zM332 493h2v2h-2zM282 495h2v2h-2zM288 495h2v2h-2zM294 495h2v2h-2zM296 495h2v2h-2zM298 495h2v2h-2zM314 495h2v2h-2zM316 495h2v2h-2zM326 495h2v2h-2zM286 497h2v2h-2zM304 497h2v2h-2zM310 497h2v2h-2zM316 497h2v2h-2zM294 499h2v2h-2zM298 499h2v2h-2zM300 499h2v2h-2zM302 499h2v2h-2zM312 499h2v2h-2zM320 499h2v2h-2zM290 501h2v2h-2zM300 501h2v2h-2zM302 501h2v2h-2zM308 501h2v2h-2zM298 503h2v2h-2zM304 503h2v2h-2zM316 503h2v2h-2zM326 503h2v2h-2zM328 503h2v2h-2zM330 503h2v2h-2zM284 505h2v2h-2zM326 505h2v2h-2zM328 505h2v2h-2zM298 507h2v2h-2zM300 507h2v2h-2zM302 507h2v2h-2zM290 509h2v2h-2zM292 509h2v2h-2zM308 509h2v2h-2zM306 511h2v2h-2zM314 511h2v2h-2zM306 517h2v2h-2z"/>
<path fill="#ff0000" d="M340 39h2v2h-2zM348 39h2v2h-2zM336 305h2v2h-2zM320 307h2v2h-2zM338 315h2v2h-2zM324 325h2v2h-2zM342 325h2v2h-2zM324 327h2v2h-2zM316 341h2v2h-2zM330 345h2v2h-2zM326 347h2v2h-2zM340 349h2v2h-2zM318 353h2v2h-2zM318 355h2v2h-2zM348 361h2v2h-2zM336 363h2v2h-2zM332 365h2v2h-2zM328 371h2v2h-2zM326 379h2v2h-2zM336 383h2v2h-2zM330 445h2v2h-2zM314 487h2v2h-2zM298 489h2v2h-2zM326 489h2v2h-2zM296 493h2v2h-2zM298 493h2v2h-2zM310 493h2v2h-2zM312 493h2v2h-2zM330 493h2v2h-2zM300 495h2v2h-2zM310 495h2v2h-2zM336 495h2v2h-2zM284 497h2v2h-2zM294 497h2v2h-2zM300 497h2v2h-2zM308 497h2v2h-2zM318 497h2v2h-2zM324 497h2v2h-2zM334 497h2v2h-2zM316 499h2v2h-2zM318 499h2v2h-2zM324 499h2v2h-2zM298 501h2v2h-2zM316 501h2v2h-2zM322 501h2v2h-2zM326 501h2v2h-2zM330 501h2v2h-2zM338 501h2v2h-2zM292 503h2v2h-2zM306 503h2v2h-2zM310 503h2v2h-2zM318 503h2v2h-2zM294 505h2v2h-2zM324 505h2v2h-2zM308 507h2v2h-2zM314 507h2v2h-2zM320 511h2v2h-2zM298 513h2v2h-2zM316 513h2v2h-2z"/>
<rect x="120.5" y="39.5" width="512" height="512" fill="none" stroke="#000" stroke-width="1"/>
<g fill="#000"><rect x="113" y="549" width="8" height="2"/><rect x="117" y="518" width="4" height="1"/><rect x="117" y="486" width="4" height="1"/><rect x="117" y="455" width="4" height="1"/><rect x="117" y="423" width="4" height="1"/><rect x="113" y="391" width="8" height="2"/><rect x="117" y="360" width="4" height="1"/><rect x="117" y="328" width="4" height="1"/><rect x="117" y="296" width="4" height="1"/><rect x="117" y="265" width="4" height="1"/><rect x="113" y="232" width="8" height="2"/><rect x="117" y="201" width="4" height="1"/><rect x="117" y="170" width="4" height="1"/><rect x="117" y="138" width="4" height="1"/><rect x="117" y="106" width="4" height="1"/><rect x="113" y="74" width="8" height="2"/><rect x="117" y="43" width="4" height="1"/><rect x="120" y="551" width="2" height="7"/><rect x="151" y="551" width="1" height="4"/><rect x="169" y="551" width="1" height="4"/><rect x="181" y="551" width="1" height="4"/><rect x="191" y="551" width="1" height="4"/><rect x="199" y="551" width="1" height="4"/><rect x="206" y="551" width="1" height="4"/><rect x="212" y="551" width="1" height="4"/><rect x="217" y="551" width="1" height="4"/><rect x="221" y="551" width="2" height="7"/><rect x="252" y="551" width="1" height="4"/><rect x="270" y="551" width="1" height="4"/><rect x="283" y="551" width="1" height="4"/><rect x="293" y="551" width="1" height="4"/><rect x="301" y="551" width="1" height="4"/><rect x="308" y="551" width="1" height="4"/><rect x="314" y="551" width="1" height="4"/><rect x="319" y="551" width="1" height="4"/><rect x="323" y="551" width="2" height="7"/><rect x="355" y="551" width="1" height="4"/><rect x="373" y="551" width="1" height="4"/><rect x="386" y="551" width="1" height="4"/><rect x="395" y="551" width="1" height="4"/><rect x="404" y="551" width="1" height="4"/><rect x="411" y="551" width="1" height="4"/><rect x="417" y="551" width="1" height="4"/><rect x="422" y="551" width="1" height="4"/><rect x="426" y="551" width="2" height="7"/><rect x="457" y="551" width="1" height="4"/><rect x="475" y="551" width="1" height="4"/><rect x="488" y="551" width="1" height="4"/><rect x="498" y="551" width="1" height="4"/><rect x="506" y="551" width="1" height="4"/><rect x="513" y="551" width="1" height="4"/><rect x="519" y="551" width="1" height="4"/><rect x="524" y="551" width="1" height="4"/><rect x="528" y="551" width="2" height="7"/><rect x="560" y="551" width="1" height="4"/><rect x="578" y="551" width="1" height="4"/><rect x="590" y="551" width="1" height="4"/><rect x="600" y="551" width="1" height="4"/><rect x="608" y="551" width="1" height="4"/><rect x="615" y="551" width="1" height="4"/><rect x="621" y="551" width="1" height="4"/><rect x="626" y="551" width="1" height="4"/><rect x="630" y="551" width="2" height="7"/></g>
<g font-family="'DejaVu Sans', 'Liberation Sans', sans-serif" fill="#000" stroke="#000" stroke-width="0.4" text-rendering="geometricPrecision">
<text transform="translate(108.20,549.80) scale(1.085,1)" text-anchor="end" font-size="12.8">0</text>
<text transform="translate(107.30,398.70) scale(1.085,1)" text-anchor="end" font-size="12.8">50K</text>
<text transform="translate(107.30,239.70) scale(1.085,1)" text-anchor="end" font-size="12.8">100K</text>
<text transform="translate(107.30,81.70) scale(1.085,1)" text-anchor="end" font-size="12.8">150K</text>
<text transform="translate(125.05,579.70) scale(1.085,1)" text-anchor="start" font-size="12.8">10</text>
<text transform="translate(142.45,569.50) scale(1.18,1)" text-anchor="start" font-size="12.0">1</text>
<text transform="translate(217.75,579.70) scale(1.085,1)" text-anchor="start" font-size="12.8">10</text>
<text transform="translate(235.15,569.50) scale(1.18,1)" text-anchor="start" font-size="12.0">2</text>
<text transform="translate(319.95,579.70) scale(1.085,1)" text-anchor="start" font-size="12.8">10</text>
<text transform="translate(337.35,569.50) scale(1.18,1)" text-anchor="start" font-size="12.0">3</text>
<text transform="translate(422.95,579.70) scale(1.085,1)" text-anchor="start" font-size="12.8">10</text>
<text transform="translate(440.35,569.50) scale(1.18,1)" text-anchor="start" font-size="12.0">4</text>
<text transform="translate(525.05,579.70) scale(1.085,1)" text-anchor="start" font-size="12.8">10</text>
<text transform="translate(542.45,569.50) scale(1.18,1)" text-anchor="start" font-size="12.0">5</text>
<text transform="translate(604.95,579.70) scale(1.085,1)" text-anchor="start" font-size="12.8">10</text>
<text transform="translate(622.35,569.50) scale(1.18,1)" text-anchor="start" font-size="12.0">6</text>
</g>
<g font-family="'DejaVu Sans', 'Liberation Sans', sans-serif" font-weight="bold" fill="#000" stroke="#000" stroke-width="0.3">
<text transform="translate(154.02,620.4) scale(1.0083,1)" font-size="27.4">CD203c</text>
<text transform="translate(277.94,620.4) scale(0.9983,1)" font-size="27.4">(purified)</text>
<text transform="translate(433.00,620.4) scale(1.3179,1)" font-size="27.4">/</text>
<text transform="translate(459.06,620.4) scale(1.0502,1)" font-size="27.4">GAM</text>
<text transform="translate(539.72,620.4) scale(1.0091,1)" font-size="27.4">APC</text>
<text transform="translate(39.0,386.99) rotate(-90) scale(0.9141,1)" font-size="29.5">Side</text>
<text transform="translate(39.0,313.15) rotate(-90) scale(0.8961,1)" font-size="29.5">Scatter</text>
</g>
</svg>
</body></html>
